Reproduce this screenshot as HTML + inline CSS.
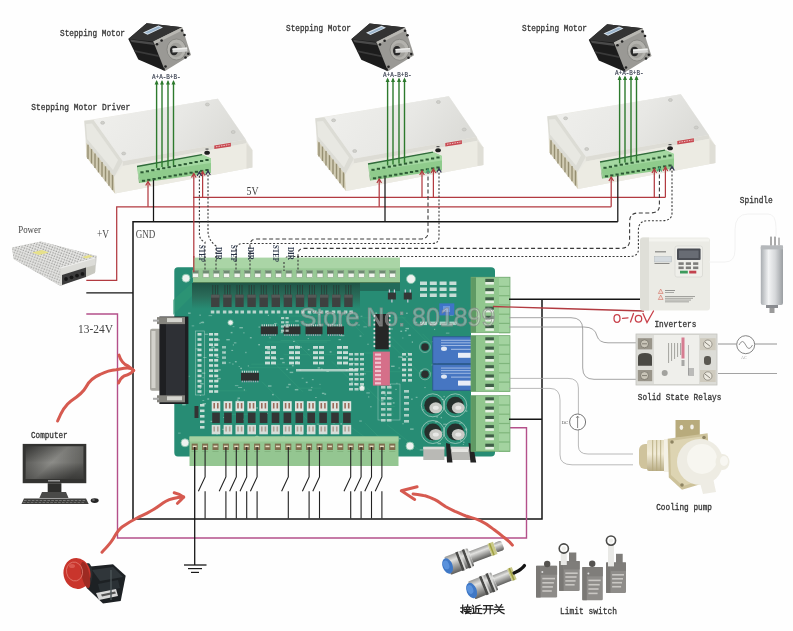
<!DOCTYPE html>
<html><head><meta charset="utf-8"><style>
html,body{margin:0;padding:0;background:#fefefe;}
svg{display:block;filter:blur(0.35px);}
</style></head><body>
<svg width="793" height="631" viewBox="0 0 793 631">
<rect x="0" y="0" width="793" height="631" fill="#fefefe"/>
<defs><linearGradient id="plateg" x1="0" y1="0" x2="1" y2="0.3"><stop offset="0" stop-color="#f0f0ed"/><stop offset="0.6" stop-color="#e8e8e5"/><stop offset="1" stop-color="#dcdcd8"/></linearGradient></defs>
<defs><g id="drv"><polygon points="84.3,120.7 217.8,98.8 245.7,139.4 252.3,150 252.3,167.5 115,193.4 86.4,157" fill="#e9e8e2"/>
<polygon points="93.5,120 217.8,98.8 245.7,139.4 122.8,161.3" fill="#f1f1ee"/>
<polygon points="93.5,120 217.8,98.8 245.7,139.4 122.8,161.3" fill="url(#plateg)"/>
<polygon points="84.3,120.7 93.5,120 122.8,161.3 114.2,177 86.4,142.8" fill="#dcdcd5"/>
<polygon points="86,124 92,123.5 118,160 113,170 87,139" fill="#e8e8e2"/>
<polygon points="86.4,142.8 114.2,177 115,193.4 86.4,157" fill="#d2ccb4"/>
<line x1="88.0" y1="144.8" x2="88.0" y2="159.0" stroke="#968f72" stroke-width="1.4"/>
<line x1="91.5" y1="149.1" x2="91.5" y2="163.5" stroke="#968f72" stroke-width="1.4"/>
<line x1="95.0" y1="153.4" x2="95.0" y2="167.9" stroke="#968f72" stroke-width="1.4"/>
<line x1="98.5" y1="157.7" x2="98.5" y2="172.4" stroke="#968f72" stroke-width="1.4"/>
<line x1="102.0" y1="162.0" x2="102.0" y2="176.8" stroke="#968f72" stroke-width="1.4"/>
<line x1="105.5" y1="166.3" x2="105.5" y2="181.3" stroke="#968f72" stroke-width="1.4"/>
<line x1="109.0" y1="170.6" x2="109.0" y2="185.7" stroke="#968f72" stroke-width="1.4"/>
<line x1="112.5" y1="174.9" x2="112.5" y2="190.1" stroke="#968f72" stroke-width="1.4"/>
<polygon points="122.8,161.3 245.7,139.4 246.5,143.2 122.8,166" fill="#dddcd5"/>
<polygon points="114.2,177 122.8,166 246.5,143.2 252.3,150 252.3,167.5 115,193.4" fill="#ecebe3"/>
<polygon points="246.5,143.2 252.3,150 252.3,167.5 246.5,168.5" fill="#dfded6"/>
<ellipse cx="102.6" cy="122.8" rx="2" ry="1.5" fill="#cfcfca" stroke="#b5b5b0" stroke-width="0.5"/>
<ellipse cx="123.7" cy="153.5" rx="2" ry="1.5" fill="#cfcfca" stroke="#b5b5b0" stroke-width="0.5"/>
<ellipse cx="207.4" cy="104.5" rx="2" ry="1.5" fill="#cfcfca" stroke="#b5b5b0" stroke-width="0.5"/>
<ellipse cx="233.2" cy="132" rx="2" ry="1.5" fill="#cfcfca" stroke="#b5b5b0" stroke-width="0.5"/>
<polygon points="214.3,145.5 230.9,142.8 230.9,146.4 214.3,149.1" fill="#c84a52"/>
<line x1="216" y1="146.8" x2="229.5" y2="144.6" stroke="#f3d4d4" stroke-width="0.9" stroke-dasharray="1.5,1"/>
<ellipse cx="207.1" cy="152.8" rx="2.8" ry="2" fill="#1e1e1e"/>
<rect x="205.5" y="148.5" width="3" height="1.2" fill="#555"/>
<polygon points="137,166.5 202,154.6 211,158.6 211,173 140,183" fill="#8fcb8c"/>
<polygon points="137,166.5 202,154.6 211,158.6 211,163 138,173.5" fill="#a4d8a1"/>
<polygon points="137,166.5 138,173.5 140,183 139,183" fill="#6fae6d"/>
<line x1="137" y1="166.5" x2="202" y2="154.6" stroke="#2f6a3a" stroke-width="1.3"/>
<rect x="140.4" y="171.3" width="3.2" height="2" fill="#2c5a34"/>
<rect x="141.9" y="179.8" width="3.2" height="2" fill="#2c5a34"/>
<rect x="145.8" y="170.3" width="3.2" height="2" fill="#2c5a34"/>
<rect x="147.2" y="178.9" width="3.2" height="2" fill="#2c5a34"/>
<rect x="151.2" y="169.2" width="3.2" height="2" fill="#2c5a34"/>
<rect x="152.5" y="178.0" width="3.2" height="2" fill="#2c5a34"/>
<rect x="156.7" y="168.2" width="3.2" height="2" fill="#2c5a34"/>
<rect x="157.8" y="177.1" width="3.2" height="2" fill="#2c5a34"/>
<rect x="162.1" y="167.2" width="3.2" height="2" fill="#2c5a34"/>
<rect x="163.1" y="176.2" width="3.2" height="2" fill="#2c5a34"/>
<rect x="167.5" y="166.2" width="3.2" height="2" fill="#2c5a34"/>
<rect x="168.4" y="175.3" width="3.2" height="2" fill="#2c5a34"/>
<rect x="172.9" y="165.1" width="3.2" height="2" fill="#2c5a34"/>
<rect x="173.7" y="174.4" width="3.2" height="2" fill="#2c5a34"/>
<rect x="178.3" y="164.1" width="3.2" height="2" fill="#2c5a34"/>
<rect x="178.9" y="173.5" width="3.2" height="2" fill="#2c5a34"/>
<rect x="183.7" y="163.1" width="3.2" height="2" fill="#2c5a34"/>
<rect x="184.2" y="172.6" width="3.2" height="2" fill="#2c5a34"/>
<rect x="189.2" y="162.0" width="3.2" height="2" fill="#2c5a34"/>
<rect x="189.5" y="171.7" width="3.2" height="2" fill="#2c5a34"/>
<rect x="194.6" y="161.0" width="3.2" height="2" fill="#2c5a34"/>
<rect x="194.8" y="170.8" width="3.2" height="2" fill="#2c5a34"/>
<rect x="200.0" y="160.0" width="3.2" height="2" fill="#2c5a34"/>
<rect x="200.1" y="169.9" width="3.2" height="2" fill="#2c5a34"/>
<rect x="205.4" y="159.0" width="3.2" height="2" fill="#2c5a34"/>
<rect x="205.4" y="169.0" width="3.2" height="2" fill="#2c5a34"/></g><g id="mot"><polygon points="128.3,38.9 146.6,23.3 182.1,27.2 165,71 138.3,59.4" fill="#1c1c1c"/>
<polygon points="128.3,38.9 146.6,23.3 182.1,27.2 153.3,41.6" fill="#333333"/>
<polygon points="130,39.5 153.3,42.5 154,45 131.5,42" fill="#4a4a4a"/>
<polygon points="134,50 158,55 159,57 135,52" fill="#3a3a3a"/>
<polygon points="143,32.5 158.5,25.5 163,27.5 147.5,34.8" fill="#dae4ec"/>
<polygon points="145,32.6 158.5,26.6 161,27.7 147.5,33.8" fill="#9ab4cc"/>
<polygon points="153.3,41.6 182.1,27.2 191,55 165,71" fill="#9a9995"/>
<polygon points="153.3,41.6 182.1,27.2 183,30 155,44" fill="#b8b7b2"/>
<ellipse cx="176.5" cy="49.5" rx="9.5" ry="10.5" fill="#b3b2ad" stroke="#7d7c78" stroke-width="0.7"/>
<ellipse cx="176" cy="50" rx="6.5" ry="7.2" fill="#a09f9a"/>
<ellipse cx="174" cy="50.5" rx="4" ry="4.8" fill="#2a2a2a"/>
<polygon points="172.5,48.6 187,47.6 187.5,51.6 172.5,52.6" fill="#d4d4d2"/>
<polygon points="172.5,48.6 187,47.6 187.2,49 172.5,50" fill="#eeeeec"/>
<circle cx="161.6" cy="40.5" r="1.3" fill="#222"/>
<circle cx="157" cy="44.2" r="1.3" fill="#222"/>
<circle cx="182" cy="30.5" r="1.3" fill="#222"/>
<circle cx="184.5" cy="35" r="1.3" fill="#222"/>
<circle cx="188.3" cy="53.8" r="1.3" fill="#222"/>
<circle cx="185.5" cy="57.5" r="1.3" fill="#222"/>
<circle cx="165.5" cy="66.5" r="1.3" fill="#222"/>
<circle cx="163.5" cy="69" r="1.3" fill="#222"/></g><g id="wir"><text x="166.3" y="79" font-size="8" fill="#3a4050" text-anchor="middle" font-family='"Liberation Mono", monospace' stroke="#3a4050" stroke-width="0.2" textLength="28.5" lengthAdjust="spacingAndGlyphs">A+A-B+B-</text>
<line x1="156.6" y1="81.5" x2="156.6" y2="167.9" stroke="#2d7a2d" stroke-width="1.4"/>
<polygon points="154.6,84.5 156.6,80 158.6,84.5" fill="#2d7a2d"/>
<line x1="162" y1="81.5" x2="162" y2="167.1" stroke="#2d7a2d" stroke-width="1.4"/>
<polygon points="160,84.5 162,80 164,84.5" fill="#2d7a2d"/>
<line x1="168" y1="81.5" x2="168" y2="166.1" stroke="#2d7a2d" stroke-width="1.4"/>
<polygon points="166,84.5 168,80 170,84.5" fill="#2d7a2d"/>
<line x1="173.5" y1="81.5" x2="173.5" y2="165.3" stroke="#2d7a2d" stroke-width="1.4"/>
<polygon points="171.5,84.5 173.5,80 175.5,84.5" fill="#2d7a2d"/></g></defs>
<use href="#drv" transform="translate(0,0)"/>
<use href="#drv" transform="translate(231,-2.5)"/>
<use href="#drv" transform="translate(463,-4.5)"/>
<use href="#mot" transform="translate(0,0)"/>
<use href="#mot" transform="translate(223,0.3)"/>
<use href="#mot" transform="translate(460.5,1)"/>
<use href="#wir" transform="translate(0,0)"/>
<use href="#wir" transform="translate(231,-2.5)"/>
<use href="#wir" transform="translate(463,-4.5)"/>
<text x="60" y="36" font-size="9.5" font-weight="normal" fill="#3a3a3a" text-anchor="start" font-family='"Liberation Mono", monospace' stroke="#3a3a3a" stroke-width="0.35" textLength="65" lengthAdjust="spacingAndGlyphs">Stepping Motor</text>
<text x="286" y="31" font-size="9.5" font-weight="normal" fill="#3a3a3a" text-anchor="start" font-family='"Liberation Mono", monospace' stroke="#3a3a3a" stroke-width="0.35" textLength="65" lengthAdjust="spacingAndGlyphs">Stepping Motor</text>
<text x="522" y="30.5" font-size="9.5" font-weight="normal" fill="#3a3a3a" text-anchor="start" font-family='"Liberation Mono", monospace' stroke="#3a3a3a" stroke-width="0.35" textLength="65" lengthAdjust="spacingAndGlyphs">Stepping Motor</text>
<text x="31.3" y="110" font-size="9.5" font-weight="normal" fill="#3a3a3a" text-anchor="start" font-family='"Liberation Mono", monospace' stroke="#3a3a3a" stroke-width="0.35" textLength="99" lengthAdjust="spacingAndGlyphs">Stepping Motor Driver</text>
<line x1="193" y1="197.3" x2="665.4" y2="197.3" stroke="#b23a40" stroke-width="1.25" />
<polyline points="86.3,280.4 116.7,280.4 116.7,206.8 611.2,206.8" fill="none" stroke="#b23a40" stroke-width="1.25" />
<polyline points="86.3,292.8 133,292.8" fill="none" stroke="#151515" stroke-width="1.25" />
<polyline points="542,299.2 542,519 133,519 133,221.8 617.8,221.8" fill="none" stroke="#151515" stroke-width="1.5"/>
<line x1="148" y1="182" x2="148" y2="206.8" stroke="#b23a40" stroke-width="1.25" />
<polyline points="145.7,185.5 148,181.5 150.3,185.5" fill="none" stroke="#b23a40" stroke-width="1.2"/>
<line x1="153.5" y1="180" x2="153.5" y2="221.8" stroke="#151515" stroke-width="1.25" />
<line x1="193.8" y1="174" x2="193.8" y2="272" stroke="#b23a40" stroke-width="1.25" />
<polyline points="191.5,177.5 193.8,173.5 196.10000000000002,177.5" fill="none" stroke="#b23a40" stroke-width="1.2"/>
<line x1="202.6" y1="172" x2="202.6" y2="197.3" stroke="#b23a40" stroke-width="1.25" />
<polyline points="200.29999999999998,175.5 202.6,171.5 204.9,175.5" fill="none" stroke="#b23a40" stroke-width="1.2"/>
<line x1="379.2" y1="179.5" x2="379.2" y2="206.8" stroke="#b23a40" stroke-width="1.25" />
<polyline points="376.9,183 379.2,179 381.5,183" fill="none" stroke="#b23a40" stroke-width="1.2"/>
<line x1="385" y1="177.5" x2="385" y2="221.8" stroke="#151515" stroke-width="1.25" />
<line x1="422" y1="171.5" x2="422" y2="197.3" stroke="#b23a40" stroke-width="1.25" />
<polyline points="419.7,175 422,171 424.3,175" fill="none" stroke="#b23a40" stroke-width="1.2"/>
<line x1="433.4" y1="169.5" x2="433.4" y2="197.3" stroke="#b23a40" stroke-width="1.25" />
<polyline points="431.09999999999997,173 433.4,169 435.7,173" fill="none" stroke="#b23a40" stroke-width="1.2"/>
<line x1="611.2" y1="177.5" x2="611.2" y2="206.8" stroke="#b23a40" stroke-width="1.25" />
<polyline points="608.9000000000001,181 611.2,177 613.5,181" fill="none" stroke="#b23a40" stroke-width="1.2"/>
<line x1="617.8" y1="175.5" x2="617.8" y2="221.8" stroke="#151515" stroke-width="1.25" />
<line x1="654.3" y1="169.5" x2="654.3" y2="197.3" stroke="#b23a40" stroke-width="1.25" />
<polyline points="652.0,173 654.3,169 656.5999999999999,173" fill="none" stroke="#b23a40" stroke-width="1.2"/>
<line x1="665.4" y1="167.5" x2="665.4" y2="197.3" stroke="#b23a40" stroke-width="1.25" />
<polyline points="663.1,171 665.4,167 667.6999999999999,171" fill="none" stroke="#b23a40" stroke-width="1.2"/>
<path d="M199.4,172 V234 Q199.4,240 205,242 V271" fill="none" stroke="#3a3a3a" stroke-width="1.1" stroke-dasharray="2,1.8"/>
<polyline points="197.1,176 199.4,172 201.70000000000002,176" fill="none" stroke="#335" stroke-width="1.2"/>
<path d="M208,171 V231 Q208,240 216,246 V271" fill="none" stroke="#3a3a3a" stroke-width="1.1" stroke-dasharray="2,1.8"/>
<polyline points="205.7,175 208,171 210.3,175" fill="none" stroke="#335" stroke-width="1.2"/>
<path d="M428,170 V233 Q428,239 420,239 H256 Q250,239 250,246 V271" fill="none" stroke="#3a3a3a" stroke-width="1.1" stroke-dasharray="4,2.5"/>
<polyline points="425.7,173.5 428,169.5 430.3,173.5" fill="none" stroke="#4a7" stroke-width="1.2"/>
<path d="M439,169 V237 Q439,243.5 432,243.5 H243 Q236,243.5 236,250 V271" fill="none" stroke="#3a3a3a" stroke-width="1.1" stroke-dasharray="2,1.8"/>
<polyline points="436.7,172.5 439,168.5 441.3,172.5" fill="none" stroke="#335" stroke-width="1.2"/>
<path d="M659.4,168 V206 Q659.4,213 650,213 H638 Q629.6,213 629.6,222 V241 Q629.6,248.4 620,248.4 H304 Q298,248.4 298,254 V271" fill="none" stroke="#3a3a3a" stroke-width="1.1" stroke-dasharray="4,2.5"/>
<polyline points="657.1,171.5 659.4,167.5 661.6999999999999,171.5" fill="none" stroke="#4a7" stroke-width="1.2"/>
<path d="M672,167 V213 Q672,220.7 662,220.7 H648 Q638.4,220.7 638.4,230 V249 Q638.4,256.5 630,256.5 H290 Q284,256.5 284,262 V271" fill="none" stroke="#3a3a3a" stroke-width="1.1" stroke-dasharray="2,1.8"/>
<polyline points="669.7,170.5 672,166.5 674.3,170.5" fill="none" stroke="#335" stroke-width="1.2"/>
<polyline points="86.3,314 117.5,314 117.5,538 526.5,538 526.5,427.8 509,427.8" fill="none" stroke="#b4508a" stroke-width="1.4"/>
<defs><linearGradient id="band" x1="0" y1="0" x2="0" y2="1"><stop offset="0" stop-color="#1e4a3e"/><stop offset="0.5" stop-color="#2a6654"/><stop offset="1" stop-color="#278c74"/></linearGradient></defs>
<path d="M178,267.3 H491 Q495,267.3 495,271 V277 H471 V440 H491 Q495,440 495,444 V452.5 Q495,456.5 491,456.5 H178 Q174.3,456.5 174.3,452.5 V271 Q174.3,267.3 178,267.3 Z" fill="#278c74"/>
<line x1="261.9" y1="381.7" x2="281.8" y2="401.6" stroke="#3aa07e" stroke-width="0.7" opacity="0.55"/>
<line x1="362.7" y1="320.4" x2="370.1" y2="327.8" stroke="#3aa07e" stroke-width="0.7" opacity="0.55"/>
<line x1="267.4" y1="342.0" x2="327.2" y2="342.0" stroke="#3aa07e" stroke-width="0.7" opacity="0.55"/>
<line x1="417.5" y1="373.0" x2="459.4" y2="373.0" stroke="#3aa07e" stroke-width="0.7" opacity="0.55"/>
<line x1="365.1" y1="423.1" x2="390.4" y2="448.4" stroke="#3aa07e" stroke-width="0.7" opacity="0.55"/>
<line x1="374.6" y1="320.2" x2="408.1" y2="353.7" stroke="#3aa07e" stroke-width="0.7" opacity="0.55"/>
<line x1="278.3" y1="316.0" x2="331.6" y2="316.0" stroke="#3aa07e" stroke-width="0.7" opacity="0.55"/>
<line x1="386.9" y1="424.5" x2="418.9" y2="450.0" stroke="#3aa07e" stroke-width="0.7" opacity="0.55"/>
<line x1="302.7" y1="414.5" x2="325.3" y2="437.1" stroke="#3aa07e" stroke-width="0.7" opacity="0.55"/>
<line x1="428.5" y1="324.5" x2="445.3" y2="324.5" stroke="#3aa07e" stroke-width="0.7" opacity="0.55"/>
<line x1="451.0" y1="367.8" x2="468.0" y2="367.8" stroke="#3aa07e" stroke-width="0.7" opacity="0.55"/>
<line x1="331.9" y1="361.4" x2="351.2" y2="380.7" stroke="#3aa07e" stroke-width="0.7" opacity="0.55"/>
<line x1="351.9" y1="427.7" x2="382.8" y2="450.0" stroke="#3aa07e" stroke-width="0.7" opacity="0.55"/>
<line x1="422.7" y1="438.8" x2="466.2" y2="438.8" stroke="#3aa07e" stroke-width="0.7" opacity="0.55"/>
<line x1="423.8" y1="435.5" x2="462.4" y2="450.0" stroke="#3aa07e" stroke-width="0.7" opacity="0.55"/>
<line x1="385.6" y1="339.0" x2="421.7" y2="375.1" stroke="#3aa07e" stroke-width="0.7" opacity="0.55"/>
<line x1="274.1" y1="320.1" x2="311.0" y2="357.0" stroke="#3aa07e" stroke-width="0.7" opacity="0.55"/>
<line x1="223.0" y1="414.5" x2="253.5" y2="414.5" stroke="#3aa07e" stroke-width="0.7" opacity="0.55"/>
<line x1="276.4" y1="410.4" x2="330.1" y2="410.4" stroke="#3aa07e" stroke-width="0.7" opacity="0.55"/>
<line x1="359.8" y1="317.8" x2="405.7" y2="317.8" stroke="#3aa07e" stroke-width="0.7" opacity="0.55"/>
<line x1="429.0" y1="437.5" x2="453.7" y2="450.0" stroke="#3aa07e" stroke-width="0.7" opacity="0.55"/>
<line x1="280.5" y1="321.9" x2="320.5" y2="321.9" stroke="#3aa07e" stroke-width="0.7" opacity="0.55"/>
<line x1="251.3" y1="364.2" x2="291.8" y2="364.2" stroke="#3aa07e" stroke-width="0.7" opacity="0.55"/>
<line x1="211.0" y1="423.1" x2="229.0" y2="441.1" stroke="#3aa07e" stroke-width="0.7" opacity="0.55"/>
<line x1="433.1" y1="360.4" x2="456.2" y2="383.5" stroke="#3aa07e" stroke-width="0.7" opacity="0.55"/>
<line x1="367.4" y1="388.2" x2="394.0" y2="414.8" stroke="#3aa07e" stroke-width="0.7" opacity="0.55"/>
<line x1="444.6" y1="376.9" x2="466.7" y2="399.0" stroke="#3aa07e" stroke-width="0.7" opacity="0.55"/>
<line x1="261.8" y1="350.5" x2="303.0" y2="391.8" stroke="#3aa07e" stroke-width="0.7" opacity="0.55"/>
<line x1="342.6" y1="313.5" x2="364.1" y2="335.0" stroke="#3aa07e" stroke-width="0.7" opacity="0.55"/>
<line x1="205.2" y1="390.8" x2="246.8" y2="390.8" stroke="#3aa07e" stroke-width="0.7" opacity="0.55"/>
<line x1="363.1" y1="371.7" x2="407.1" y2="371.7" stroke="#3aa07e" stroke-width="0.7" opacity="0.55"/>
<line x1="383.8" y1="406.5" x2="394.9" y2="406.5" stroke="#3aa07e" stroke-width="0.7" opacity="0.55"/>
<line x1="375.8" y1="435.3" x2="398.3" y2="435.3" stroke="#3aa07e" stroke-width="0.7" opacity="0.55"/>
<line x1="354.1" y1="353.0" x2="382.3" y2="353.0" stroke="#3aa07e" stroke-width="0.7" opacity="0.55"/>
<line x1="296.0" y1="388.2" x2="321.0" y2="388.2" stroke="#3aa07e" stroke-width="0.7" opacity="0.55"/>
<line x1="400.8" y1="315.4" x2="427.7" y2="342.4" stroke="#3aa07e" stroke-width="0.7" opacity="0.55"/>
<line x1="280.6" y1="340.5" x2="330.8" y2="340.5" stroke="#3aa07e" stroke-width="0.7" opacity="0.55"/>
<line x1="248.7" y1="367.7" x2="293.6" y2="367.7" stroke="#3aa07e" stroke-width="0.7" opacity="0.55"/>
<line x1="283.7" y1="354.7" x2="335.4" y2="354.7" stroke="#3aa07e" stroke-width="0.7" opacity="0.55"/>
<line x1="422.4" y1="333.7" x2="441.2" y2="352.5" stroke="#3aa07e" stroke-width="0.7" opacity="0.55"/>
<g fill="#dff0e8" opacity="0.45"><rect x="308.3" y="389.5" width="3.5" height="1.1"/><rect x="324.3" y="393.4" width="1.8" height="1.4"/><rect x="315.0" y="397.2" width="1.8" height="0.8"/><rect x="306.6" y="330.1" width="1.2" height="1.4"/><rect x="460.9" y="447.0" width="1.8" height="1.4"/><rect x="182.3" y="385.0" width="1.2" height="0.8"/><rect x="232.8" y="344.4" width="1.2" height="1.1"/><rect x="272.0" y="393.9" width="1.8" height="1.4"/><rect x="245.3" y="351.8" width="1.2" height="1.4"/><rect x="202.5" y="403.0" width="3.5" height="1.4"/><rect x="464.8" y="429.3" width="2.5" height="1.1"/><rect x="396.3" y="382.8" width="1.2" height="0.8"/><rect x="340.2" y="325.3" width="1.2" height="1.1"/><rect x="289.3" y="446.0" width="1.2" height="0.8"/><rect x="238.4" y="439.3" width="3.5" height="1.1"/><rect x="460.3" y="366.4" width="1.2" height="1.4"/><rect x="359.3" y="420.5" width="2.5" height="1.1"/><rect x="203.1" y="357.2" width="3.5" height="0.8"/><rect x="216.8" y="410.4" width="1.2" height="0.8"/><rect x="311.9" y="379.1" width="1.8" height="1.1"/><rect x="324.6" y="449.9" width="1.8" height="1.1"/><rect x="363.4" y="326.5" width="3.5" height="0.8"/><rect x="178.1" y="432.7" width="2.5" height="0.8"/><rect x="238.7" y="366.0" width="1.2" height="0.8"/><rect x="462.9" y="340.3" width="2.5" height="0.8"/><rect x="400.5" y="356.7" width="2.5" height="1.1"/><rect x="199.1" y="322.8" width="1.8" height="0.8"/><rect x="351.2" y="362.8" width="3.5" height="0.8"/><rect x="454.2" y="378.7" width="1.8" height="1.1"/><rect x="230.7" y="331.9" width="1.8" height="1.4"/><rect x="249.9" y="337.0" width="1.8" height="1.4"/><rect x="451.6" y="435.3" width="1.2" height="1.1"/><rect x="191.7" y="325.5" width="2.5" height="0.8"/><rect x="391.1" y="365.6" width="3.5" height="1.4"/><rect x="319.4" y="383.9" width="1.2" height="0.8"/><rect x="243.8" y="389.4" width="1.2" height="1.1"/><rect x="239.2" y="439.9" width="1.2" height="0.8"/><rect x="255.5" y="373.3" width="1.2" height="0.8"/><rect x="228.8" y="362.4" width="1.8" height="0.8"/><rect x="282.3" y="436.5" width="2.5" height="1.4"/><rect x="389.1" y="384.1" width="1.8" height="1.4"/><rect x="188.1" y="312.5" width="2.5" height="1.4"/><rect x="267.8" y="314.8" width="1.2" height="1.1"/><rect x="197.4" y="354.2" width="1.8" height="0.8"/><rect x="199.7" y="387.5" width="1.2" height="1.4"/><rect x="390.3" y="328.4" width="2.5" height="1.1"/><rect x="202.5" y="377.2" width="1.2" height="1.1"/><rect x="449.9" y="314.3" width="3.5" height="1.4"/><rect x="182.2" y="404.0" width="3.5" height="1.4"/><rect x="181.6" y="320.3" width="1.2" height="1.4"/><rect x="211.3" y="346.5" width="3.5" height="1.4"/><rect x="273.1" y="442.7" width="3.5" height="1.1"/><rect x="311.2" y="386.9" width="1.2" height="1.1"/><rect x="351.2" y="378.3" width="1.8" height="1.4"/><rect x="210.5" y="420.8" width="3.5" height="1.1"/><rect x="436.2" y="362.2" width="1.8" height="1.4"/><rect x="354.2" y="383.6" width="2.5" height="1.4"/><rect x="445.9" y="380.8" width="1.8" height="1.1"/><rect x="294.6" y="345.6" width="3.5" height="0.8"/><rect x="431.5" y="364.6" width="2.5" height="0.8"/><rect x="217.2" y="380.5" width="1.2" height="1.4"/><rect x="196.5" y="449.2" width="1.8" height="0.8"/><rect x="307.8" y="349.1" width="1.8" height="1.1"/><rect x="288.2" y="383.8" width="2.5" height="1.4"/><rect x="419.7" y="449.4" width="3.5" height="1.1"/><rect x="199.5" y="314.5" width="1.2" height="1.4"/><rect x="382.1" y="391.0" width="2.5" height="1.4"/><rect x="406.0" y="312.7" width="1.8" height="1.1"/><rect x="309.0" y="313.5" width="2.5" height="0.8"/><rect x="402.4" y="423.2" width="1.2" height="1.1"/><rect x="209.4" y="386.0" width="2.5" height="0.8"/><rect x="375.1" y="338.3" width="3.5" height="1.1"/><rect x="229.5" y="311.5" width="3.5" height="1.4"/><rect x="383.7" y="335.4" width="2.5" height="1.1"/><rect x="333.4" y="444.4" width="1.8" height="1.1"/><rect x="422.4" y="409.4" width="1.8" height="0.8"/><rect x="296.2" y="436.8" width="3.5" height="0.8"/><rect x="307.7" y="338.0" width="1.2" height="1.1"/><rect x="336.4" y="402.7" width="2.5" height="1.1"/><rect x="272.0" y="449.5" width="1.2" height="1.4"/><rect x="427.5" y="423.4" width="1.2" height="0.8"/><rect x="247.8" y="365.4" width="1.2" height="1.1"/><rect x="332.6" y="422.3" width="2.5" height="1.1"/><rect x="440.1" y="431.5" width="2.5" height="1.4"/><rect x="201.8" y="372.6" width="3.5" height="1.1"/><rect x="318.4" y="314.0" width="1.2" height="1.1"/><rect x="408.4" y="334.6" width="2.5" height="1.4"/><rect x="404.9" y="330.0" width="1.8" height="1.4"/><rect x="437.4" y="383.6" width="3.5" height="1.1"/><rect x="344.7" y="407.8" width="1.8" height="1.1"/><rect x="329.7" y="351.2" width="1.8" height="1.4"/><rect x="326.1" y="438.8" width="2.5" height="1.1"/><rect x="371.3" y="445.6" width="1.8" height="1.1"/><rect x="423.0" y="447.5" width="2.5" height="1.4"/><rect x="321.3" y="368.4" width="1.2" height="1.4"/><rect x="179.4" y="363.5" width="1.2" height="1.4"/><rect x="442.2" y="387.2" width="1.2" height="1.1"/><rect x="204.8" y="333.7" width="3.5" height="1.1"/><rect x="443.2" y="423.7" width="3.5" height="1.1"/><rect x="248.9" y="380.0" width="2.5" height="1.1"/><rect x="437.5" y="442.9" width="3.5" height="1.4"/><rect x="269.4" y="337.2" width="1.2" height="1.1"/><rect x="215.3" y="420.7" width="1.2" height="0.8"/><rect x="233.9" y="342.3" width="2.5" height="1.1"/><rect x="386.4" y="344.7" width="3.5" height="0.8"/><rect x="321.9" y="392.7" width="2.5" height="1.4"/><rect x="234.9" y="385.3" width="3.5" height="0.8"/><rect x="286.2" y="368.7" width="1.8" height="1.4"/><rect x="236.8" y="399.6" width="1.8" height="1.4"/><rect x="240.3" y="387.1" width="1.8" height="0.8"/><rect x="441.5" y="399.2" width="2.5" height="0.8"/><rect x="269.0" y="354.7" width="1.8" height="0.8"/><rect x="402.2" y="337.6" width="1.2" height="0.8"/><rect x="434.0" y="328.8" width="1.2" height="1.1"/><rect x="289.7" y="371.7" width="3.5" height="1.4"/><rect x="405.5" y="327.9" width="3.5" height="1.4"/><rect x="375.3" y="312.5" width="1.8" height="1.4"/><rect x="374.5" y="439.4" width="2.5" height="0.8"/><rect x="381.0" y="400.1" width="2.5" height="1.4"/><rect x="465.6" y="428.3" width="1.2" height="1.1"/><rect x="208.6" y="315.3" width="3.5" height="0.8"/><rect x="232.6" y="326.3" width="1.8" height="0.8"/><rect x="463.2" y="441.6" width="1.2" height="1.4"/><rect x="195.8" y="445.1" width="3.5" height="0.8"/><rect x="398.2" y="356.4" width="3.5" height="1.1"/><rect x="326.4" y="371.1" width="2.5" height="0.8"/><rect x="360.6" y="315.8" width="1.8" height="0.8"/><rect x="295.5" y="361.1" width="2.5" height="1.1"/><rect x="443.5" y="395.9" width="1.2" height="1.4"/><rect x="406.2" y="356.0" width="1.2" height="1.4"/><rect x="430.2" y="439.0" width="3.5" height="1.4"/><rect x="350.7" y="381.6" width="2.5" height="1.1"/><rect x="258.5" y="326.5" width="1.8" height="1.1"/><rect x="216.4" y="356.8" width="2.5" height="1.1"/><rect x="398.4" y="367.6" width="1.8" height="0.8"/><rect x="407.6" y="352.8" width="1.2" height="0.8"/><rect x="433.8" y="450.7" width="1.2" height="0.8"/><rect x="256.6" y="446.5" width="2.5" height="1.1"/><rect x="240.2" y="367.7" width="1.8" height="1.4"/><rect x="200.1" y="383.1" width="3.5" height="1.4"/><rect x="239.4" y="327.0" width="3.5" height="1.4"/><rect x="184.6" y="397.4" width="1.8" height="1.1"/><rect x="305.8" y="381.7" width="1.8" height="1.4"/><rect x="286.2" y="324.0" width="2.5" height="1.1"/><rect x="438.8" y="388.1" width="3.5" height="1.4"/><rect x="341.6" y="451.3" width="3.5" height="1.4"/><rect x="199.9" y="394.9" width="1.2" height="1.1"/><rect x="445.9" y="332.7" width="3.5" height="0.8"/><rect x="424.4" y="387.0" width="1.2" height="1.1"/><rect x="450.2" y="369.7" width="3.5" height="1.4"/><rect x="268.0" y="385.3" width="3.5" height="1.4"/><rect x="255.7" y="442.0" width="2.5" height="0.8"/><rect x="182.0" y="344.8" width="1.2" height="1.4"/><rect x="223.1" y="417.2" width="3.5" height="0.8"/><rect x="436.5" y="416.3" width="1.2" height="1.4"/><rect x="462.8" y="444.1" width="1.2" height="0.8"/><rect x="301.7" y="377.8" width="1.8" height="0.8"/><rect x="328.7" y="443.1" width="3.5" height="0.8"/><rect x="459.9" y="426.0" width="1.2" height="0.8"/><rect x="357.8" y="374.7" width="1.8" height="0.8"/><rect x="280.7" y="332.0" width="2.5" height="1.1"/><rect x="218.3" y="369.2" width="2.5" height="1.4"/><rect x="345.7" y="369.6" width="1.8" height="1.1"/><rect x="389.5" y="343.9" width="1.2" height="1.4"/><rect x="435.1" y="421.4" width="2.5" height="1.1"/><rect x="256.2" y="407.3" width="1.8" height="1.4"/><rect x="258.2" y="344.0" width="1.8" height="1.4"/><rect x="460.2" y="440.0" width="1.2" height="1.4"/><rect x="195.5" y="348.5" width="3.5" height="0.8"/><rect x="357.5" y="324.6" width="2.5" height="0.8"/><rect x="395.7" y="439.6" width="1.8" height="1.4"/><rect x="245.6" y="449.4" width="3.5" height="1.1"/><rect x="280.0" y="358.0" width="3.5" height="1.4"/><rect x="216.4" y="433.5" width="1.2" height="1.1"/><rect x="411.0" y="398.6" width="1.8" height="1.1"/><rect x="300.2" y="346.6" width="1.8" height="1.1"/><rect x="222.2" y="428.8" width="2.5" height="1.1"/><rect x="336.0" y="415.9" width="1.8" height="1.1"/><rect x="366.3" y="392.4" width="3.5" height="1.1"/><rect x="200.6" y="321.8" width="3.5" height="1.4"/><rect x="311.5" y="426.9" width="1.2" height="0.8"/><rect x="267.3" y="439.3" width="1.2" height="1.4"/><rect x="265.5" y="412.9" width="2.5" height="1.1"/><rect x="431.9" y="341.1" width="2.5" height="1.1"/><rect x="439.0" y="355.8" width="3.5" height="1.4"/><rect x="349.3" y="438.1" width="2.5" height="1.1"/><rect x="330.7" y="450.9" width="3.5" height="1.1"/><rect x="241.7" y="447.4" width="1.8" height="0.8"/><rect x="282.2" y="361.9" width="2.5" height="1.4"/><rect x="291.9" y="365.0" width="1.8" height="1.4"/><rect x="340.4" y="423.2" width="1.8" height="1.4"/><rect x="340.1" y="335.1" width="3.5" height="1.1"/><rect x="411.8" y="341.4" width="1.2" height="1.4"/><rect x="223.7" y="352.0" width="1.2" height="1.4"/><rect x="420.4" y="370.0" width="2.5" height="1.4"/><rect x="202.2" y="321.6" width="1.2" height="1.1"/><rect x="202.4" y="400.0" width="1.8" height="0.8"/><rect x="392.8" y="402.2" width="1.8" height="1.4"/><rect x="241.5" y="418.7" width="2.5" height="1.1"/><rect x="291.6" y="358.0" width="2.5" height="1.4"/><rect x="217.4" y="379.3" width="1.2" height="1.4"/><rect x="356.0" y="316.6" width="2.5" height="0.8"/><rect x="410.1" y="428.4" width="3.5" height="1.4"/><rect x="362.4" y="384.4" width="1.2" height="0.8"/><rect x="299.4" y="369.7" width="1.8" height="0.8"/><rect x="391.5" y="450.7" width="3.5" height="1.4"/><rect x="226.3" y="339.0" width="3.5" height="1.4"/><rect x="262.1" y="447.7" width="1.2" height="1.1"/><rect x="266.8" y="326.3" width="1.8" height="0.8"/><rect x="440.7" y="416.9" width="1.2" height="1.4"/><rect x="316.6" y="423.7" width="2.5" height="0.8"/><rect x="234.9" y="361.0" width="1.8" height="1.4"/><rect x="384.6" y="394.5" width="1.8" height="1.1"/><rect x="231.3" y="349.9" width="1.8" height="1.1"/><rect x="358.5" y="443.8" width="3.5" height="1.1"/><rect x="317.6" y="367.2" width="2.5" height="1.4"/><rect x="335.6" y="445.9" width="3.5" height="0.8"/><rect x="293.0" y="340.9" width="1.8" height="1.1"/><rect x="459.1" y="422.8" width="2.5" height="0.8"/><rect x="367.4" y="343.7" width="1.2" height="1.1"/><rect x="438.7" y="373.9" width="1.8" height="1.4"/><rect x="299.4" y="434.2" width="3.5" height="0.8"/><rect x="400.3" y="330.6" width="1.8" height="1.4"/><rect x="391.6" y="398.0" width="1.2" height="0.8"/><rect x="342.7" y="335.3" width="1.8" height="0.8"/><rect x="414.8" y="321.7" width="2.5" height="1.4"/><rect x="384.4" y="323.8" width="3.5" height="1.4"/><rect x="313.0" y="445.7" width="2.5" height="0.8"/><rect x="405.3" y="369.2" width="1.2" height="1.1"/><rect x="238.0" y="387.2" width="3.5" height="0.8"/><rect x="450.6" y="446.9" width="2.5" height="1.1"/><rect x="294.8" y="389.0" width="3.5" height="1.4"/><rect x="384.0" y="361.1" width="1.8" height="0.8"/><rect x="370.3" y="406.0" width="1.2" height="1.4"/><rect x="306.2" y="432.6" width="3.5" height="0.8"/><rect x="262.5" y="326.1" width="1.2" height="1.4"/><rect x="237.5" y="397.5" width="2.5" height="1.4"/><rect x="286.3" y="386.6" width="2.5" height="1.1"/><rect x="395.4" y="388.9" width="1.2" height="1.1"/><rect x="232.3" y="363.5" width="1.2" height="1.1"/><rect x="267.2" y="348.9" width="3.5" height="1.4"/><rect x="362.4" y="373.5" width="3.5" height="0.8"/><rect x="207.3" y="398.3" width="1.8" height="1.4"/><rect x="359.6" y="335.5" width="1.8" height="1.1"/><rect x="188.5" y="375.8" width="1.2" height="0.8"/><rect x="243.3" y="332.3" width="1.2" height="1.1"/><rect x="295.2" y="320.3" width="3.5" height="1.4"/><rect x="218.0" y="339.2" width="1.8" height="1.4"/><rect x="289.2" y="357.1" width="3.5" height="1.4"/><rect x="182.4" y="366.9" width="2.5" height="0.8"/><rect x="368.1" y="396.4" width="1.2" height="1.1"/><rect x="273.3" y="358.6" width="3.5" height="0.8"/><rect x="338.5" y="339.1" width="2.5" height="1.1"/><rect x="415.7" y="396.8" width="1.8" height="1.1"/><rect x="398.8" y="438.2" width="1.8" height="1.1"/><rect x="354.3" y="382.9" width="1.8" height="1.4"/><rect x="465.5" y="410.4" width="1.8" height="1.4"/><rect x="450.1" y="399.1" width="1.8" height="0.8"/><rect x="217.2" y="377.9" width="3.5" height="1.4"/><rect x="274.1" y="323.0" width="2.5" height="1.1"/></g>
<polygon points="173,300 192,283 192,296 173,315" fill="#2f9775" opacity="0.6"/>
<rect x="195.5" y="331" width="9" height="64" fill="none" stroke="#d8ece4" stroke-width="0.6" opacity="0.6"/>
<circle cx="186" cy="278.2" r="4" fill="#eef2f0" stroke="#7fbfa6" stroke-width="0.8"/>
<circle cx="185" cy="442.8" r="4" fill="#eef2f0" stroke="#7fbfa6" stroke-width="0.8"/>
<circle cx="411" cy="279" r="4.5" fill="#eef2f0" stroke="#7fbfa6" stroke-width="0.8"/>
<circle cx="410" cy="446" r="4" fill="#eef2f0" stroke="#7fbfa6" stroke-width="0.8"/>
<circle cx="230.5" cy="322.6" r="2.6" fill="#eef2f0" stroke="#7fbfa6" stroke-width="0.8"/>
<circle cx="362" cy="388" r="2.6" fill="#eef2f0" stroke="#7fbfa6" stroke-width="0.8"/>
<circle cx="257" cy="438" r="2" fill="#eef2f0" stroke="#7fbfa6" stroke-width="0.8"/>
<rect x="192" y="283" width="168" height="26" fill="url(#band)" opacity="0.85"/>
<rect x="360" y="283" width="40" height="8" fill="#1e4a3e" opacity="0.5"/>
<rect x="212.4" y="285" width="0.8" height="10" fill="#2a2f2d" opacity="0.8"/>
<rect x="214.9" y="285" width="0.8" height="10" fill="#2a2f2d" opacity="0.8"/>
<rect x="217.4" y="285" width="0.8" height="10" fill="#2a2f2d" opacity="0.8"/>
<rect x="211.1" y="294.7" width="8.4" height="12.3" fill="#3e4140"/>
<rect x="211.1" y="294.7" width="8.4" height="3" fill="#555957"/>
<rect x="210.8" y="310.5" width="3.5" height="3" fill="#dfe6e2" opacity="0.8"/>
<rect x="216.3" y="310.5" width="3.5" height="3" fill="#dfe6e2" opacity="0.8"/>
<rect x="224.5" y="285" width="0.8" height="10" fill="#2a2f2d" opacity="0.8"/>
<rect x="227.0" y="285" width="0.8" height="10" fill="#2a2f2d" opacity="0.8"/>
<rect x="229.5" y="285" width="0.8" height="10" fill="#2a2f2d" opacity="0.8"/>
<rect x="223.2" y="294.7" width="8.4" height="12.3" fill="#3e4140"/>
<rect x="223.2" y="294.7" width="8.4" height="3" fill="#555957"/>
<rect x="222.9" y="310.5" width="3.5" height="3" fill="#dfe6e2" opacity="0.8"/>
<rect x="228.4" y="310.5" width="3.5" height="3" fill="#dfe6e2" opacity="0.8"/>
<rect x="236.6" y="285" width="0.8" height="10" fill="#2a2f2d" opacity="0.8"/>
<rect x="239.1" y="285" width="0.8" height="10" fill="#2a2f2d" opacity="0.8"/>
<rect x="241.6" y="285" width="0.8" height="10" fill="#2a2f2d" opacity="0.8"/>
<rect x="235.3" y="294.7" width="8.4" height="12.3" fill="#3e4140"/>
<rect x="235.3" y="294.7" width="8.4" height="3" fill="#555957"/>
<rect x="235.0" y="310.5" width="3.5" height="3" fill="#dfe6e2" opacity="0.8"/>
<rect x="240.5" y="310.5" width="3.5" height="3" fill="#dfe6e2" opacity="0.8"/>
<rect x="248.7" y="285" width="0.8" height="10" fill="#2a2f2d" opacity="0.8"/>
<rect x="251.2" y="285" width="0.8" height="10" fill="#2a2f2d" opacity="0.8"/>
<rect x="253.7" y="285" width="0.8" height="10" fill="#2a2f2d" opacity="0.8"/>
<rect x="247.4" y="294.7" width="8.4" height="12.3" fill="#3e4140"/>
<rect x="247.4" y="294.7" width="8.4" height="3" fill="#555957"/>
<rect x="247.1" y="310.5" width="3.5" height="3" fill="#dfe6e2" opacity="0.8"/>
<rect x="252.6" y="310.5" width="3.5" height="3" fill="#dfe6e2" opacity="0.8"/>
<rect x="260.8" y="285" width="0.8" height="10" fill="#2a2f2d" opacity="0.8"/>
<rect x="263.3" y="285" width="0.8" height="10" fill="#2a2f2d" opacity="0.8"/>
<rect x="265.8" y="285" width="0.8" height="10" fill="#2a2f2d" opacity="0.8"/>
<rect x="259.5" y="294.7" width="8.4" height="12.3" fill="#3e4140"/>
<rect x="259.5" y="294.7" width="8.4" height="3" fill="#555957"/>
<rect x="259.2" y="310.5" width="3.5" height="3" fill="#dfe6e2" opacity="0.8"/>
<rect x="264.7" y="310.5" width="3.5" height="3" fill="#dfe6e2" opacity="0.8"/>
<rect x="272.9" y="285" width="0.8" height="10" fill="#2a2f2d" opacity="0.8"/>
<rect x="275.4" y="285" width="0.8" height="10" fill="#2a2f2d" opacity="0.8"/>
<rect x="277.9" y="285" width="0.8" height="10" fill="#2a2f2d" opacity="0.8"/>
<rect x="271.6" y="294.7" width="8.4" height="12.3" fill="#3e4140"/>
<rect x="271.6" y="294.7" width="8.4" height="3" fill="#555957"/>
<rect x="271.3" y="310.5" width="3.5" height="3" fill="#dfe6e2" opacity="0.8"/>
<rect x="276.8" y="310.5" width="3.5" height="3" fill="#dfe6e2" opacity="0.8"/>
<rect x="285.0" y="285" width="0.8" height="10" fill="#2a2f2d" opacity="0.8"/>
<rect x="287.5" y="285" width="0.8" height="10" fill="#2a2f2d" opacity="0.8"/>
<rect x="290.0" y="285" width="0.8" height="10" fill="#2a2f2d" opacity="0.8"/>
<rect x="283.7" y="294.7" width="8.4" height="12.3" fill="#3e4140"/>
<rect x="283.7" y="294.7" width="8.4" height="3" fill="#555957"/>
<rect x="283.4" y="310.5" width="3.5" height="3" fill="#dfe6e2" opacity="0.8"/>
<rect x="288.9" y="310.5" width="3.5" height="3" fill="#dfe6e2" opacity="0.8"/>
<rect x="297.1" y="285" width="0.8" height="10" fill="#2a2f2d" opacity="0.8"/>
<rect x="299.6" y="285" width="0.8" height="10" fill="#2a2f2d" opacity="0.8"/>
<rect x="302.1" y="285" width="0.8" height="10" fill="#2a2f2d" opacity="0.8"/>
<rect x="295.8" y="294.7" width="8.4" height="12.3" fill="#3e4140"/>
<rect x="295.8" y="294.7" width="8.4" height="3" fill="#555957"/>
<rect x="295.5" y="310.5" width="3.5" height="3" fill="#dfe6e2" opacity="0.8"/>
<rect x="301.0" y="310.5" width="3.5" height="3" fill="#dfe6e2" opacity="0.8"/>
<rect x="309.2" y="285" width="0.8" height="10" fill="#2a2f2d" opacity="0.8"/>
<rect x="311.7" y="285" width="0.8" height="10" fill="#2a2f2d" opacity="0.8"/>
<rect x="314.2" y="285" width="0.8" height="10" fill="#2a2f2d" opacity="0.8"/>
<rect x="307.9" y="294.7" width="8.4" height="12.3" fill="#3e4140"/>
<rect x="307.9" y="294.7" width="8.4" height="3" fill="#555957"/>
<rect x="307.6" y="310.5" width="3.5" height="3" fill="#dfe6e2" opacity="0.8"/>
<rect x="313.1" y="310.5" width="3.5" height="3" fill="#dfe6e2" opacity="0.8"/>
<rect x="321.3" y="285" width="0.8" height="10" fill="#2a2f2d" opacity="0.8"/>
<rect x="323.8" y="285" width="0.8" height="10" fill="#2a2f2d" opacity="0.8"/>
<rect x="326.3" y="285" width="0.8" height="10" fill="#2a2f2d" opacity="0.8"/>
<rect x="320.0" y="294.7" width="8.4" height="12.3" fill="#3e4140"/>
<rect x="320.0" y="294.7" width="8.4" height="3" fill="#555957"/>
<rect x="319.7" y="310.5" width="3.5" height="3" fill="#dfe6e2" opacity="0.8"/>
<rect x="325.2" y="310.5" width="3.5" height="3" fill="#dfe6e2" opacity="0.8"/>
<rect x="333.4" y="285" width="0.8" height="10" fill="#2a2f2d" opacity="0.8"/>
<rect x="335.9" y="285" width="0.8" height="10" fill="#2a2f2d" opacity="0.8"/>
<rect x="338.4" y="285" width="0.8" height="10" fill="#2a2f2d" opacity="0.8"/>
<rect x="332.1" y="294.7" width="8.4" height="12.3" fill="#3e4140"/>
<rect x="332.1" y="294.7" width="8.4" height="3" fill="#555957"/>
<rect x="331.8" y="310.5" width="3.5" height="3" fill="#dfe6e2" opacity="0.8"/>
<rect x="337.3" y="310.5" width="3.5" height="3" fill="#dfe6e2" opacity="0.8"/>
<rect x="345.5" y="285" width="0.8" height="10" fill="#2a2f2d" opacity="0.8"/>
<rect x="348.0" y="285" width="0.8" height="10" fill="#2a2f2d" opacity="0.8"/>
<rect x="350.5" y="285" width="0.8" height="10" fill="#2a2f2d" opacity="0.8"/>
<rect x="344.2" y="294.7" width="8.4" height="12.3" fill="#3e4140"/>
<rect x="344.2" y="294.7" width="8.4" height="3" fill="#555957"/>
<rect x="343.9" y="310.5" width="3.5" height="3" fill="#dfe6e2" opacity="0.8"/>
<rect x="349.4" y="310.5" width="3.5" height="3" fill="#dfe6e2" opacity="0.8"/>
<rect x="387.9" y="292.5" width="8" height="7" fill="#333635"/>
<rect x="388.79999999999995" y="289.5" width="1.2" height="3" fill="#ccd"/>
<rect x="393.79999999999995" y="289.5" width="1.2" height="3" fill="#ccd"/>
<rect x="391.29999999999995" y="299.5" width="1.2" height="3" fill="#ccd"/>
<rect x="403.8" y="292.5" width="8" height="7" fill="#333635"/>
<rect x="404.7" y="289.5" width="1.2" height="3" fill="#ccd"/>
<rect x="409.7" y="289.5" width="1.2" height="3" fill="#ccd"/>
<rect x="407.2" y="299.5" width="1.2" height="3" fill="#ccd"/>
<rect x="260.8" y="326.3" width="17" height="8" fill="#2e302f"/>
<rect x="261.6" y="324.3" width="1.1" height="2" fill="#d8d8d8"/>
<rect x="261.6" y="334.3" width="1.1" height="1.6" fill="#aab"/>
<rect x="263.8" y="324.3" width="1.1" height="2" fill="#d8d8d8"/>
<rect x="263.8" y="334.3" width="1.1" height="1.6" fill="#aab"/>
<rect x="266.0" y="324.3" width="1.1" height="2" fill="#d8d8d8"/>
<rect x="266.0" y="334.3" width="1.1" height="1.6" fill="#aab"/>
<rect x="268.2" y="324.3" width="1.1" height="2" fill="#d8d8d8"/>
<rect x="268.2" y="334.3" width="1.1" height="1.6" fill="#aab"/>
<rect x="270.4" y="324.3" width="1.1" height="2" fill="#d8d8d8"/>
<rect x="270.4" y="334.3" width="1.1" height="1.6" fill="#aab"/>
<rect x="272.6" y="324.3" width="1.1" height="2" fill="#d8d8d8"/>
<rect x="272.6" y="334.3" width="1.1" height="1.6" fill="#aab"/>
<rect x="274.8" y="324.3" width="1.1" height="2" fill="#d8d8d8"/>
<rect x="274.8" y="334.3" width="1.1" height="1.6" fill="#aab"/>
<rect x="283.5" y="326.3" width="17" height="8" fill="#2e302f"/>
<rect x="284.3" y="324.3" width="1.1" height="2" fill="#d8d8d8"/>
<rect x="284.3" y="334.3" width="1.1" height="1.6" fill="#aab"/>
<rect x="286.5" y="324.3" width="1.1" height="2" fill="#d8d8d8"/>
<rect x="286.5" y="334.3" width="1.1" height="1.6" fill="#aab"/>
<rect x="288.7" y="324.3" width="1.1" height="2" fill="#d8d8d8"/>
<rect x="288.7" y="334.3" width="1.1" height="1.6" fill="#aab"/>
<rect x="290.9" y="324.3" width="1.1" height="2" fill="#d8d8d8"/>
<rect x="290.9" y="334.3" width="1.1" height="1.6" fill="#aab"/>
<rect x="293.1" y="324.3" width="1.1" height="2" fill="#d8d8d8"/>
<rect x="293.1" y="334.3" width="1.1" height="1.6" fill="#aab"/>
<rect x="295.3" y="324.3" width="1.1" height="2" fill="#d8d8d8"/>
<rect x="295.3" y="334.3" width="1.1" height="1.6" fill="#aab"/>
<rect x="297.5" y="324.3" width="1.1" height="2" fill="#d8d8d8"/>
<rect x="297.5" y="334.3" width="1.1" height="1.6" fill="#aab"/>
<rect x="305.5" y="326.3" width="17" height="8" fill="#2e302f"/>
<rect x="306.3" y="324.3" width="1.1" height="2" fill="#d8d8d8"/>
<rect x="306.3" y="334.3" width="1.1" height="1.6" fill="#aab"/>
<rect x="308.5" y="324.3" width="1.1" height="2" fill="#d8d8d8"/>
<rect x="308.5" y="334.3" width="1.1" height="1.6" fill="#aab"/>
<rect x="310.7" y="324.3" width="1.1" height="2" fill="#d8d8d8"/>
<rect x="310.7" y="334.3" width="1.1" height="1.6" fill="#aab"/>
<rect x="312.9" y="324.3" width="1.1" height="2" fill="#d8d8d8"/>
<rect x="312.9" y="334.3" width="1.1" height="1.6" fill="#aab"/>
<rect x="315.1" y="324.3" width="1.1" height="2" fill="#d8d8d8"/>
<rect x="315.1" y="334.3" width="1.1" height="1.6" fill="#aab"/>
<rect x="317.3" y="324.3" width="1.1" height="2" fill="#d8d8d8"/>
<rect x="317.3" y="334.3" width="1.1" height="1.6" fill="#aab"/>
<rect x="319.5" y="324.3" width="1.1" height="2" fill="#d8d8d8"/>
<rect x="319.5" y="334.3" width="1.1" height="1.6" fill="#aab"/>
<rect x="327" y="326.3" width="17" height="8" fill="#2e302f"/>
<rect x="327.8" y="324.3" width="1.1" height="2" fill="#d8d8d8"/>
<rect x="327.8" y="334.3" width="1.1" height="1.6" fill="#aab"/>
<rect x="330.0" y="324.3" width="1.1" height="2" fill="#d8d8d8"/>
<rect x="330.0" y="334.3" width="1.1" height="1.6" fill="#aab"/>
<rect x="332.2" y="324.3" width="1.1" height="2" fill="#d8d8d8"/>
<rect x="332.2" y="334.3" width="1.1" height="1.6" fill="#aab"/>
<rect x="334.4" y="324.3" width="1.1" height="2" fill="#d8d8d8"/>
<rect x="334.4" y="334.3" width="1.1" height="1.6" fill="#aab"/>
<rect x="336.6" y="324.3" width="1.1" height="2" fill="#d8d8d8"/>
<rect x="336.6" y="334.3" width="1.1" height="1.6" fill="#aab"/>
<rect x="338.8" y="324.3" width="1.1" height="2" fill="#d8d8d8"/>
<rect x="338.8" y="334.3" width="1.1" height="1.6" fill="#aab"/>
<rect x="341.0" y="324.3" width="1.1" height="2" fill="#d8d8d8"/>
<rect x="341.0" y="334.3" width="1.1" height="1.6" fill="#aab"/>
<rect x="241" y="372.7" width="18" height="8" fill="#2e302f"/>
<rect x="241.8" y="370.7" width="1.1" height="2" fill="#d8d8d8"/>
<rect x="241.8" y="380.7" width="1.1" height="1.6" fill="#aab"/>
<rect x="244.0" y="370.7" width="1.1" height="2" fill="#d8d8d8"/>
<rect x="244.0" y="380.7" width="1.1" height="1.6" fill="#aab"/>
<rect x="246.2" y="370.7" width="1.1" height="2" fill="#d8d8d8"/>
<rect x="246.2" y="380.7" width="1.1" height="1.6" fill="#aab"/>
<rect x="248.4" y="370.7" width="1.1" height="2" fill="#d8d8d8"/>
<rect x="248.4" y="380.7" width="1.1" height="1.6" fill="#aab"/>
<rect x="250.6" y="370.7" width="1.1" height="2" fill="#d8d8d8"/>
<rect x="250.6" y="380.7" width="1.1" height="1.6" fill="#aab"/>
<rect x="252.8" y="370.7" width="1.1" height="2" fill="#d8d8d8"/>
<rect x="252.8" y="380.7" width="1.1" height="1.6" fill="#aab"/>
<rect x="255.0" y="370.7" width="1.1" height="2" fill="#d8d8d8"/>
<rect x="255.0" y="380.7" width="1.1" height="1.6" fill="#aab"/>
<rect x="257.2" y="370.7" width="1.1" height="2" fill="#d8d8d8"/>
<rect x="257.2" y="380.7" width="1.1" height="1.6" fill="#aab"/>
<rect x="375.2" y="314" width="13.6" height="35.3" fill="#252626"/>
<rect x="373.5" y="315.0" width="1.7" height="2" fill="#ddd"/>
<rect x="388.8" y="315.0" width="1.7" height="2" fill="#ddd"/>
<rect x="373.5" y="319.3" width="1.7" height="2" fill="#ddd"/>
<rect x="388.8" y="319.3" width="1.7" height="2" fill="#ddd"/>
<rect x="373.5" y="323.6" width="1.7" height="2" fill="#ddd"/>
<rect x="388.8" y="323.6" width="1.7" height="2" fill="#ddd"/>
<rect x="373.5" y="327.9" width="1.7" height="2" fill="#ddd"/>
<rect x="388.8" y="327.9" width="1.7" height="2" fill="#ddd"/>
<rect x="373.5" y="332.2" width="1.7" height="2" fill="#ddd"/>
<rect x="388.8" y="332.2" width="1.7" height="2" fill="#ddd"/>
<rect x="373.5" y="336.5" width="1.7" height="2" fill="#ddd"/>
<rect x="388.8" y="336.5" width="1.7" height="2" fill="#ddd"/>
<rect x="373.5" y="340.8" width="1.7" height="2" fill="#ddd"/>
<rect x="388.8" y="340.8" width="1.7" height="2" fill="#ddd"/>
<rect x="373.5" y="345.1" width="1.7" height="2" fill="#ddd"/>
<rect x="388.8" y="345.1" width="1.7" height="2" fill="#ddd"/>
<rect x="197.5" y="333.0" width="4" height="2.6" fill="#e3ebe7" opacity="0.85"/>
<rect x="197.5" y="338.2" width="4" height="2.6" fill="#e3ebe7" opacity="0.85"/>
<rect x="197.5" y="343.4" width="4" height="2.6" fill="#e3ebe7" opacity="0.85"/>
<rect x="197.5" y="348.6" width="4" height="2.6" fill="#e3ebe7" opacity="0.85"/>
<rect x="197.5" y="353.8" width="4" height="2.6" fill="#e3ebe7" opacity="0.85"/>
<rect x="197.5" y="359.0" width="4" height="2.6" fill="#e3ebe7" opacity="0.85"/>
<rect x="197.5" y="364.2" width="4" height="2.6" fill="#e3ebe7" opacity="0.85"/>
<rect x="197.5" y="369.4" width="4" height="2.6" fill="#e3ebe7" opacity="0.85"/>
<rect x="197.5" y="374.6" width="4" height="2.6" fill="#e3ebe7" opacity="0.85"/>
<rect x="197.5" y="379.8" width="4" height="2.6" fill="#e3ebe7" opacity="0.85"/>
<rect x="197.5" y="385.0" width="4" height="2.6" fill="#e3ebe7" opacity="0.85"/>
<rect x="197.5" y="390.2" width="4" height="2.6" fill="#e3ebe7" opacity="0.85"/>
<rect x="209.0" y="333.0" width="4" height="2.6" fill="#e3ebe7" opacity="0.85"/>
<rect x="209.0" y="338.2" width="4" height="2.6" fill="#e3ebe7" opacity="0.85"/>
<rect x="209.0" y="343.4" width="4" height="2.6" fill="#e3ebe7" opacity="0.85"/>
<rect x="209.0" y="348.6" width="4" height="2.6" fill="#e3ebe7" opacity="0.85"/>
<rect x="209.0" y="353.8" width="4" height="2.6" fill="#e3ebe7" opacity="0.85"/>
<rect x="209.0" y="359.0" width="4" height="2.6" fill="#e3ebe7" opacity="0.85"/>
<rect x="209.0" y="364.2" width="4" height="2.6" fill="#e3ebe7" opacity="0.85"/>
<rect x="209.0" y="369.4" width="4" height="2.6" fill="#e3ebe7" opacity="0.85"/>
<rect x="209.0" y="374.6" width="4" height="2.6" fill="#e3ebe7" opacity="0.85"/>
<rect x="209.0" y="379.8" width="4" height="2.6" fill="#e3ebe7" opacity="0.85"/>
<rect x="209.0" y="385.0" width="4" height="2.6" fill="#e3ebe7" opacity="0.85"/>
<rect x="209.0" y="390.2" width="4" height="2.6" fill="#e3ebe7" opacity="0.85"/>
<rect x="214.2" y="333.0" width="4" height="2.6" fill="#e3ebe7" opacity="0.85"/>
<rect x="214.2" y="338.2" width="4" height="2.6" fill="#e3ebe7" opacity="0.85"/>
<rect x="214.2" y="343.4" width="4" height="2.6" fill="#e3ebe7" opacity="0.85"/>
<rect x="214.2" y="348.6" width="4" height="2.6" fill="#e3ebe7" opacity="0.85"/>
<rect x="214.2" y="353.8" width="4" height="2.6" fill="#e3ebe7" opacity="0.85"/>
<rect x="214.2" y="359.0" width="4" height="2.6" fill="#e3ebe7" opacity="0.85"/>
<rect x="214.2" y="364.2" width="4" height="2.6" fill="#e3ebe7" opacity="0.85"/>
<rect x="214.2" y="369.4" width="4" height="2.6" fill="#e3ebe7" opacity="0.85"/>
<rect x="214.2" y="374.6" width="4" height="2.6" fill="#e3ebe7" opacity="0.85"/>
<rect x="214.2" y="379.8" width="4" height="2.6" fill="#e3ebe7" opacity="0.85"/>
<rect x="214.2" y="385.0" width="4" height="2.6" fill="#e3ebe7" opacity="0.85"/>
<rect x="214.2" y="390.2" width="4" height="2.6" fill="#e3ebe7" opacity="0.85"/>
<rect x="265.0" y="346.0" width="5" height="2.8" fill="#e3ebe7" opacity="0.85"/>
<rect x="265.0" y="351.2" width="5" height="2.8" fill="#e3ebe7" opacity="0.85"/>
<rect x="265.0" y="356.4" width="5" height="2.8" fill="#e3ebe7" opacity="0.85"/>
<rect x="265.0" y="361.6" width="5" height="2.8" fill="#e3ebe7" opacity="0.85"/>
<rect x="271.0" y="346.0" width="5" height="2.8" fill="#e3ebe7" opacity="0.85"/>
<rect x="271.0" y="351.2" width="5" height="2.8" fill="#e3ebe7" opacity="0.85"/>
<rect x="271.0" y="356.4" width="5" height="2.8" fill="#e3ebe7" opacity="0.85"/>
<rect x="271.0" y="361.6" width="5" height="2.8" fill="#e3ebe7" opacity="0.85"/>
<rect x="289.0" y="346.0" width="5" height="2.8" fill="#e3ebe7" opacity="0.85"/>
<rect x="289.0" y="351.2" width="5" height="2.8" fill="#e3ebe7" opacity="0.85"/>
<rect x="289.0" y="356.4" width="5" height="2.8" fill="#e3ebe7" opacity="0.85"/>
<rect x="289.0" y="361.6" width="5" height="2.8" fill="#e3ebe7" opacity="0.85"/>
<rect x="295.0" y="346.0" width="5" height="2.8" fill="#e3ebe7" opacity="0.85"/>
<rect x="295.0" y="351.2" width="5" height="2.8" fill="#e3ebe7" opacity="0.85"/>
<rect x="295.0" y="356.4" width="5" height="2.8" fill="#e3ebe7" opacity="0.85"/>
<rect x="295.0" y="361.6" width="5" height="2.8" fill="#e3ebe7" opacity="0.85"/>
<rect x="313.0" y="346.0" width="5" height="2.8" fill="#e3ebe7" opacity="0.85"/>
<rect x="313.0" y="351.2" width="5" height="2.8" fill="#e3ebe7" opacity="0.85"/>
<rect x="313.0" y="356.4" width="5" height="2.8" fill="#e3ebe7" opacity="0.85"/>
<rect x="313.0" y="361.6" width="5" height="2.8" fill="#e3ebe7" opacity="0.85"/>
<rect x="319.0" y="346.0" width="5" height="2.8" fill="#e3ebe7" opacity="0.85"/>
<rect x="319.0" y="351.2" width="5" height="2.8" fill="#e3ebe7" opacity="0.85"/>
<rect x="319.0" y="356.4" width="5" height="2.8" fill="#e3ebe7" opacity="0.85"/>
<rect x="319.0" y="361.6" width="5" height="2.8" fill="#e3ebe7" opacity="0.85"/>
<rect x="337.0" y="346.0" width="5" height="2.8" fill="#e3ebe7" opacity="0.85"/>
<rect x="337.0" y="351.2" width="5" height="2.8" fill="#e3ebe7" opacity="0.85"/>
<rect x="337.0" y="356.4" width="5" height="2.8" fill="#e3ebe7" opacity="0.85"/>
<rect x="337.0" y="361.6" width="5" height="2.8" fill="#e3ebe7" opacity="0.85"/>
<rect x="343.0" y="346.0" width="5" height="2.8" fill="#e3ebe7" opacity="0.85"/>
<rect x="343.0" y="351.2" width="5" height="2.8" fill="#e3ebe7" opacity="0.85"/>
<rect x="343.0" y="356.4" width="5" height="2.8" fill="#e3ebe7" opacity="0.85"/>
<rect x="343.0" y="361.6" width="5" height="2.8" fill="#e3ebe7" opacity="0.85"/>
<rect x="222.0" y="346.0" width="4" height="2.5" fill="#e3ebe7" opacity="0.6"/>
<rect x="222.0" y="351.2" width="4" height="2.5" fill="#e3ebe7" opacity="0.6"/>
<rect x="222.0" y="356.4" width="4" height="2.5" fill="#e3ebe7" opacity="0.6"/>
<rect x="222.0" y="361.6" width="4" height="2.5" fill="#e3ebe7" opacity="0.6"/>
<rect x="281.0" y="317.0" width="3.2" height="2.2" fill="#e3ebe7" opacity="0.7"/>
<rect x="281.0" y="321.2" width="3.2" height="2.2" fill="#e3ebe7" opacity="0.7"/>
<rect x="281.0" y="325.4" width="3.2" height="2.2" fill="#e3ebe7" opacity="0.7"/>
<rect x="281.0" y="329.6" width="3.2" height="2.2" fill="#e3ebe7" opacity="0.7"/>
<rect x="285.5" y="317.0" width="3.2" height="2.2" fill="#e3ebe7" opacity="0.7"/>
<rect x="285.5" y="321.2" width="3.2" height="2.2" fill="#e3ebe7" opacity="0.7"/>
<rect x="285.5" y="325.4" width="3.2" height="2.2" fill="#e3ebe7" opacity="0.7"/>
<rect x="285.5" y="329.6" width="3.2" height="2.2" fill="#e3ebe7" opacity="0.7"/>
<rect x="349.0" y="353.0" width="4" height="2.5" fill="#e3ebe7" opacity="0.75"/>
<rect x="349.0" y="358.0" width="4" height="2.5" fill="#e3ebe7" opacity="0.75"/>
<rect x="349.0" y="363.0" width="4" height="2.5" fill="#e3ebe7" opacity="0.75"/>
<rect x="349.0" y="368.0" width="4" height="2.5" fill="#e3ebe7" opacity="0.75"/>
<rect x="349.0" y="373.0" width="4" height="2.5" fill="#e3ebe7" opacity="0.75"/>
<rect x="349.0" y="378.0" width="4" height="2.5" fill="#e3ebe7" opacity="0.75"/>
<rect x="349.0" y="383.0" width="4" height="2.5" fill="#e3ebe7" opacity="0.75"/>
<rect x="349.0" y="388.0" width="4" height="2.5" fill="#e3ebe7" opacity="0.75"/>
<rect x="354.5" y="353.0" width="4" height="2.5" fill="#e3ebe7" opacity="0.75"/>
<rect x="354.5" y="358.0" width="4" height="2.5" fill="#e3ebe7" opacity="0.75"/>
<rect x="354.5" y="363.0" width="4" height="2.5" fill="#e3ebe7" opacity="0.75"/>
<rect x="354.5" y="368.0" width="4" height="2.5" fill="#e3ebe7" opacity="0.75"/>
<rect x="354.5" y="373.0" width="4" height="2.5" fill="#e3ebe7" opacity="0.75"/>
<rect x="354.5" y="378.0" width="4" height="2.5" fill="#e3ebe7" opacity="0.75"/>
<rect x="354.5" y="383.0" width="4" height="2.5" fill="#e3ebe7" opacity="0.75"/>
<rect x="354.5" y="388.0" width="4" height="2.5" fill="#e3ebe7" opacity="0.75"/>
<rect x="360.0" y="353.0" width="4" height="2.5" fill="#e3ebe7" opacity="0.75"/>
<rect x="360.0" y="358.0" width="4" height="2.5" fill="#e3ebe7" opacity="0.75"/>
<rect x="360.0" y="363.0" width="4" height="2.5" fill="#e3ebe7" opacity="0.75"/>
<rect x="360.0" y="368.0" width="4" height="2.5" fill="#e3ebe7" opacity="0.75"/>
<rect x="360.0" y="373.0" width="4" height="2.5" fill="#e3ebe7" opacity="0.75"/>
<rect x="360.0" y="378.0" width="4" height="2.5" fill="#e3ebe7" opacity="0.75"/>
<rect x="360.0" y="383.0" width="4" height="2.5" fill="#e3ebe7" opacity="0.75"/>
<rect x="360.0" y="388.0" width="4" height="2.5" fill="#e3ebe7" opacity="0.75"/>
<rect x="420.0" y="281.5" width="7" height="3.5" fill="#e3ebe7" opacity="0.85"/>
<rect x="420.0" y="287.5" width="7" height="3.5" fill="#e3ebe7" opacity="0.85"/>
<rect x="420.0" y="293.5" width="7" height="3.5" fill="#e3ebe7" opacity="0.85"/>
<rect x="429.8" y="281.5" width="7" height="3.5" fill="#e3ebe7" opacity="0.85"/>
<rect x="429.8" y="287.5" width="7" height="3.5" fill="#e3ebe7" opacity="0.85"/>
<rect x="429.8" y="293.5" width="7" height="3.5" fill="#e3ebe7" opacity="0.85"/>
<rect x="439.6" y="281.5" width="7" height="3.5" fill="#e3ebe7" opacity="0.85"/>
<rect x="439.6" y="287.5" width="7" height="3.5" fill="#e3ebe7" opacity="0.85"/>
<rect x="439.6" y="293.5" width="7" height="3.5" fill="#e3ebe7" opacity="0.85"/>
<rect x="449.4" y="281.5" width="7" height="3.5" fill="#e3ebe7" opacity="0.85"/>
<rect x="449.4" y="287.5" width="7" height="3.5" fill="#e3ebe7" opacity="0.85"/>
<rect x="449.4" y="293.5" width="7" height="3.5" fill="#e3ebe7" opacity="0.85"/>
<rect x="420.0" y="321.6" width="7" height="3.5" fill="#e3ebe7" opacity="0.7"/>
<rect x="429.8" y="321.6" width="7" height="3.5" fill="#e3ebe7" opacity="0.7"/>
<rect x="439.6" y="321.6" width="7" height="3.5" fill="#e3ebe7" opacity="0.7"/>
<rect x="449.4" y="321.6" width="7" height="3.5" fill="#e3ebe7" opacity="0.7"/>
<rect x="402.0" y="353.0" width="4" height="2.6" fill="#e3ebe7" opacity="0.8"/>
<rect x="402.0" y="358.2" width="4" height="2.6" fill="#e3ebe7" opacity="0.8"/>
<rect x="402.0" y="363.4" width="4" height="2.6" fill="#e3ebe7" opacity="0.8"/>
<rect x="402.0" y="368.6" width="4" height="2.6" fill="#e3ebe7" opacity="0.8"/>
<rect x="402.0" y="373.8" width="4" height="2.6" fill="#e3ebe7" opacity="0.8"/>
<rect x="402.0" y="379.0" width="4" height="2.6" fill="#e3ebe7" opacity="0.8"/>
<rect x="408.0" y="353.0" width="4" height="2.6" fill="#e3ebe7" opacity="0.8"/>
<rect x="408.0" y="358.2" width="4" height="2.6" fill="#e3ebe7" opacity="0.8"/>
<rect x="408.0" y="363.4" width="4" height="2.6" fill="#e3ebe7" opacity="0.8"/>
<rect x="408.0" y="368.6" width="4" height="2.6" fill="#e3ebe7" opacity="0.8"/>
<rect x="408.0" y="373.8" width="4" height="2.6" fill="#e3ebe7" opacity="0.8"/>
<rect x="408.0" y="379.0" width="4" height="2.6" fill="#e3ebe7" opacity="0.8"/>
<rect x="381.0" y="386.0" width="4.5" height="2.6" fill="#e3ebe7" opacity="0.7"/>
<rect x="381.0" y="391.5" width="4.5" height="2.6" fill="#e3ebe7" opacity="0.7"/>
<rect x="381.0" y="397.0" width="4.5" height="2.6" fill="#e3ebe7" opacity="0.7"/>
<rect x="381.0" y="402.5" width="4.5" height="2.6" fill="#e3ebe7" opacity="0.7"/>
<rect x="381.0" y="408.0" width="4.5" height="2.6" fill="#e3ebe7" opacity="0.7"/>
<rect x="381.0" y="413.5" width="4.5" height="2.6" fill="#e3ebe7" opacity="0.7"/>
<rect x="381.0" y="419.0" width="4.5" height="2.6" fill="#e3ebe7" opacity="0.7"/>
<rect x="387.0" y="386.0" width="4.5" height="2.6" fill="#e3ebe7" opacity="0.7"/>
<rect x="387.0" y="391.5" width="4.5" height="2.6" fill="#e3ebe7" opacity="0.7"/>
<rect x="387.0" y="397.0" width="4.5" height="2.6" fill="#e3ebe7" opacity="0.7"/>
<rect x="387.0" y="402.5" width="4.5" height="2.6" fill="#e3ebe7" opacity="0.7"/>
<rect x="387.0" y="408.0" width="4.5" height="2.6" fill="#e3ebe7" opacity="0.7"/>
<rect x="387.0" y="413.5" width="4.5" height="2.6" fill="#e3ebe7" opacity="0.7"/>
<rect x="387.0" y="419.0" width="4.5" height="2.6" fill="#e3ebe7" opacity="0.7"/>
<rect x="404.0" y="390.0" width="5" height="2.6" fill="#e3ebe7" opacity="0.7"/>
<rect x="404.0" y="396.0" width="5" height="2.6" fill="#e3ebe7" opacity="0.7"/>
<rect x="404.0" y="402.0" width="5" height="2.6" fill="#e3ebe7" opacity="0.7"/>
<rect x="404.0" y="408.0" width="5" height="2.6" fill="#e3ebe7" opacity="0.7"/>
<rect x="404.0" y="414.0" width="5" height="2.6" fill="#e3ebe7" opacity="0.7"/>
<rect x="404.0" y="420.0" width="5" height="2.6" fill="#e3ebe7" opacity="0.7"/>
<rect x="296" y="369" width="62" height="2.5" fill="#e3ebe7" opacity="0.7"/>
<rect x="378" y="384" width="22" height="36" fill="none" stroke="#d8ece4" stroke-width="0.6" opacity="0.6"/>
<rect x="211.7" y="401.2" width="8.6" height="10" fill="#dfe5e1"/>
<rect x="213.4" y="403" width="1.6" height="5.5" fill="#9a6a5a"/>
<rect x="217.0" y="403" width="1.6" height="5.5" fill="#9a6a5a"/>
<rect x="212.2" y="412.6" width="7.6" height="10.4" fill="#333535"/>
<rect x="211.7" y="424.9" width="8.6" height="9.4" fill="#d6ddd9"/>
<rect x="213.4" y="426.5" width="1.6" height="5" fill="#a08878" opacity="0.7"/>
<rect x="217.0" y="426.5" width="1.6" height="5" fill="#a08878" opacity="0.7"/>
<rect x="223.6" y="401.2" width="8.6" height="10" fill="#dfe5e1"/>
<rect x="225.3" y="403" width="1.6" height="5.5" fill="#9a6a5a"/>
<rect x="228.9" y="403" width="1.6" height="5.5" fill="#9a6a5a"/>
<rect x="224.1" y="412.6" width="7.6" height="10.4" fill="#333535"/>
<rect x="223.6" y="424.9" width="8.6" height="9.4" fill="#d6ddd9"/>
<rect x="225.3" y="426.5" width="1.6" height="5" fill="#a08878" opacity="0.7"/>
<rect x="228.9" y="426.5" width="1.6" height="5" fill="#a08878" opacity="0.7"/>
<rect x="235.5" y="401.2" width="8.6" height="10" fill="#dfe5e1"/>
<rect x="237.2" y="403" width="1.6" height="5.5" fill="#9a6a5a"/>
<rect x="240.8" y="403" width="1.6" height="5.5" fill="#9a6a5a"/>
<rect x="236.0" y="412.6" width="7.6" height="10.4" fill="#333535"/>
<rect x="235.5" y="424.9" width="8.6" height="9.4" fill="#d6ddd9"/>
<rect x="237.2" y="426.5" width="1.6" height="5" fill="#a08878" opacity="0.7"/>
<rect x="240.8" y="426.5" width="1.6" height="5" fill="#a08878" opacity="0.7"/>
<rect x="247.4" y="401.2" width="8.6" height="10" fill="#dfe5e1"/>
<rect x="249.1" y="403" width="1.6" height="5.5" fill="#9a6a5a"/>
<rect x="252.7" y="403" width="1.6" height="5.5" fill="#9a6a5a"/>
<rect x="247.9" y="412.6" width="7.6" height="10.4" fill="#333535"/>
<rect x="247.4" y="424.9" width="8.6" height="9.4" fill="#d6ddd9"/>
<rect x="249.1" y="426.5" width="1.6" height="5" fill="#a08878" opacity="0.7"/>
<rect x="252.7" y="426.5" width="1.6" height="5" fill="#a08878" opacity="0.7"/>
<rect x="259.3" y="401.2" width="8.6" height="10" fill="#dfe5e1"/>
<rect x="261.0" y="403" width="1.6" height="5.5" fill="#9a6a5a"/>
<rect x="264.6" y="403" width="1.6" height="5.5" fill="#9a6a5a"/>
<rect x="259.8" y="412.6" width="7.6" height="10.4" fill="#333535"/>
<rect x="259.3" y="424.9" width="8.6" height="9.4" fill="#d6ddd9"/>
<rect x="261.0" y="426.5" width="1.6" height="5" fill="#a08878" opacity="0.7"/>
<rect x="264.6" y="426.5" width="1.6" height="5" fill="#a08878" opacity="0.7"/>
<rect x="271.2" y="401.2" width="8.6" height="10" fill="#dfe5e1"/>
<rect x="272.9" y="403" width="1.6" height="5.5" fill="#9a6a5a"/>
<rect x="276.5" y="403" width="1.6" height="5.5" fill="#9a6a5a"/>
<rect x="271.7" y="412.6" width="7.6" height="10.4" fill="#333535"/>
<rect x="271.2" y="424.9" width="8.6" height="9.4" fill="#d6ddd9"/>
<rect x="272.9" y="426.5" width="1.6" height="5" fill="#a08878" opacity="0.7"/>
<rect x="276.5" y="426.5" width="1.6" height="5" fill="#a08878" opacity="0.7"/>
<rect x="283.1" y="401.2" width="8.6" height="10" fill="#dfe5e1"/>
<rect x="284.8" y="403" width="1.6" height="5.5" fill="#9a6a5a"/>
<rect x="288.4" y="403" width="1.6" height="5.5" fill="#9a6a5a"/>
<rect x="283.6" y="412.6" width="7.6" height="10.4" fill="#333535"/>
<rect x="283.1" y="424.9" width="8.6" height="9.4" fill="#d6ddd9"/>
<rect x="284.8" y="426.5" width="1.6" height="5" fill="#a08878" opacity="0.7"/>
<rect x="288.4" y="426.5" width="1.6" height="5" fill="#a08878" opacity="0.7"/>
<rect x="295.0" y="401.2" width="8.6" height="10" fill="#dfe5e1"/>
<rect x="296.7" y="403" width="1.6" height="5.5" fill="#9a6a5a"/>
<rect x="300.3" y="403" width="1.6" height="5.5" fill="#9a6a5a"/>
<rect x="295.5" y="412.6" width="7.6" height="10.4" fill="#333535"/>
<rect x="295.0" y="424.9" width="8.6" height="9.4" fill="#d6ddd9"/>
<rect x="296.7" y="426.5" width="1.6" height="5" fill="#a08878" opacity="0.7"/>
<rect x="300.3" y="426.5" width="1.6" height="5" fill="#a08878" opacity="0.7"/>
<rect x="306.9" y="401.2" width="8.6" height="10" fill="#dfe5e1"/>
<rect x="308.6" y="403" width="1.6" height="5.5" fill="#9a6a5a"/>
<rect x="312.2" y="403" width="1.6" height="5.5" fill="#9a6a5a"/>
<rect x="307.4" y="412.6" width="7.6" height="10.4" fill="#333535"/>
<rect x="306.9" y="424.9" width="8.6" height="9.4" fill="#d6ddd9"/>
<rect x="308.6" y="426.5" width="1.6" height="5" fill="#a08878" opacity="0.7"/>
<rect x="312.2" y="426.5" width="1.6" height="5" fill="#a08878" opacity="0.7"/>
<rect x="318.8" y="401.2" width="8.6" height="10" fill="#dfe5e1"/>
<rect x="320.5" y="403" width="1.6" height="5.5" fill="#9a6a5a"/>
<rect x="324.1" y="403" width="1.6" height="5.5" fill="#9a6a5a"/>
<rect x="319.3" y="412.6" width="7.6" height="10.4" fill="#333535"/>
<rect x="318.8" y="424.9" width="8.6" height="9.4" fill="#d6ddd9"/>
<rect x="320.5" y="426.5" width="1.6" height="5" fill="#a08878" opacity="0.7"/>
<rect x="324.1" y="426.5" width="1.6" height="5" fill="#a08878" opacity="0.7"/>
<rect x="330.7" y="401.2" width="8.6" height="10" fill="#dfe5e1"/>
<rect x="332.4" y="403" width="1.6" height="5.5" fill="#9a6a5a"/>
<rect x="336.0" y="403" width="1.6" height="5.5" fill="#9a6a5a"/>
<rect x="331.2" y="412.6" width="7.6" height="10.4" fill="#333535"/>
<rect x="330.7" y="424.9" width="8.6" height="9.4" fill="#d6ddd9"/>
<rect x="332.4" y="426.5" width="1.6" height="5" fill="#a08878" opacity="0.7"/>
<rect x="336.0" y="426.5" width="1.6" height="5" fill="#a08878" opacity="0.7"/>
<rect x="342.6" y="401.2" width="8.6" height="10" fill="#dfe5e1"/>
<rect x="344.3" y="403" width="1.6" height="5.5" fill="#9a6a5a"/>
<rect x="347.9" y="403" width="1.6" height="5.5" fill="#9a6a5a"/>
<rect x="343.1" y="412.6" width="7.6" height="10.4" fill="#333535"/>
<rect x="342.6" y="424.9" width="8.6" height="9.4" fill="#d6ddd9"/>
<rect x="344.3" y="426.5" width="1.6" height="5" fill="#a08878" opacity="0.7"/>
<rect x="347.9" y="426.5" width="1.6" height="5" fill="#a08878" opacity="0.7"/>
<rect x="200.0" y="404.0" width="4.5" height="2.6" fill="#e3ebe7" opacity="0.85"/>
<rect x="200.0" y="409.5" width="4.5" height="2.6" fill="#e3ebe7" opacity="0.85"/>
<rect x="200.0" y="415.0" width="4.5" height="2.6" fill="#e3ebe7" opacity="0.85"/>
<rect x="200.0" y="420.5" width="4.5" height="2.6" fill="#e3ebe7" opacity="0.85"/>
<rect x="200.0" y="426.0" width="4.5" height="2.6" fill="#e3ebe7" opacity="0.85"/>
<rect x="194.5" y="406" width="4" height="12" fill="#333"/>
<rect x="372.9" y="351.6" width="17" height="34" fill="#d56f89"/>
<rect x="375" y="353.5" width="6" height="2.2" fill="#f0c4d0"/>
<rect x="375" y="357.6" width="6" height="2.2" fill="#f0c4d0"/>
<rect x="375" y="361.7" width="6" height="2.2" fill="#f0c4d0"/>
<rect x="375" y="365.8" width="6" height="2.2" fill="#f0c4d0"/>
<rect x="375" y="369.9" width="6" height="2.2" fill="#f0c4d0"/>
<rect x="375" y="374.0" width="6" height="2.2" fill="#f0c4d0"/>
<rect x="375" y="378.1" width="6" height="2.2" fill="#f0c4d0"/>
<rect x="375" y="382.2" width="6" height="2.2" fill="#f0c4d0"/>
<circle cx="425" cy="347" r="5.5" fill="none" stroke="#cfe0d8" stroke-width="0.6" opacity="0.7"/>
<circle cx="425" cy="347" r="3.8" fill="#2c2e2e"/>
<circle cx="425" cy="374.3" r="5.5" fill="none" stroke="#cfe0d8" stroke-width="0.6" opacity="0.7"/>
<circle cx="425" cy="374.3" r="3.8" fill="#2c2e2e"/>
<rect x="439.3" y="303.4" width="15" height="12" fill="#3f74c8"/>
<rect x="443" y="306" width="7" height="6" fill="#6b98dd"/>
<rect x="432.8" y="336.8" width="43.3" height="26.69999999999999" fill="#4676c2"/>
<rect x="432.8" y="336.8" width="43.3" height="26.69999999999999" fill="none" stroke="#2c548f" stroke-width="0.8"/>
<ellipse cx="444" cy="348.8" rx="3" ry="2.2" fill="#dfe7f4"/>
<rect x="441" y="339.8" width="30" height="0.9" fill="#a9c0e6"/>
<rect x="441" y="342.4" width="30" height="0.9" fill="#a9c0e6"/>
<rect x="441" y="345.0" width="30" height="0.9" fill="#a9c0e6"/>
<rect x="451" y="348.8" width="20" height="1" fill="#a9c0e6"/>
<rect x="458" y="352.8" width="13" height="5" fill="#e9eef7"/>
<rect x="432.8" y="364.6" width="43.3" height="25.69999999999999" fill="#4676c2"/>
<rect x="432.8" y="364.6" width="43.3" height="25.69999999999999" fill="none" stroke="#2c548f" stroke-width="0.8"/>
<ellipse cx="444" cy="376.6" rx="3" ry="2.2" fill="#dfe7f4"/>
<rect x="441" y="367.6" width="30" height="0.9" fill="#a9c0e6"/>
<rect x="441" y="370.2" width="30" height="0.9" fill="#a9c0e6"/>
<rect x="441" y="372.8" width="30" height="0.9" fill="#a9c0e6"/>
<rect x="451" y="376.6" width="20" height="1" fill="#a9c0e6"/>
<rect x="458" y="380.6" width="13" height="5" fill="#e9eef7"/>
<circle cx="432.8" cy="405.3" r="11.5" fill="none" stroke="#d6e8e0" stroke-width="0.7" opacity="0.8"/>
<circle cx="432.8" cy="405.3" r="8.5" fill="#26302d"/>
<ellipse cx="435.8" cy="407.8" rx="6.5" ry="5.5" fill="#c9cac6"/>
<ellipse cx="435.8" cy="407.8" rx="3" ry="2" fill="#e8e8e6"/>
<circle cx="455.3" cy="405.3" r="11.5" fill="none" stroke="#d6e8e0" stroke-width="0.7" opacity="0.8"/>
<circle cx="455.3" cy="405.3" r="8.5" fill="#26302d"/>
<ellipse cx="458.3" cy="407.8" rx="6.5" ry="5.5" fill="#c9cac6"/>
<ellipse cx="458.3" cy="407.8" rx="3" ry="2" fill="#e8e8e6"/>
<circle cx="432.8" cy="432" r="11.5" fill="none" stroke="#d6e8e0" stroke-width="0.7" opacity="0.8"/>
<circle cx="432.8" cy="432" r="8.5" fill="#26302d"/>
<ellipse cx="435.8" cy="434.5" rx="6.5" ry="5.5" fill="#c9cac6"/>
<ellipse cx="435.8" cy="434.5" rx="3" ry="2" fill="#e8e8e6"/>
<circle cx="455.3" cy="432" r="11.5" fill="none" stroke="#d6e8e0" stroke-width="0.7" opacity="0.8"/>
<circle cx="455.3" cy="432" r="8.5" fill="#26302d"/>
<ellipse cx="458.3" cy="434.5" rx="6.5" ry="5.5" fill="#c9cac6"/>
<ellipse cx="458.3" cy="434.5" rx="3" ry="2" fill="#e8e8e6"/>
<rect x="423.3" y="446.8" width="21.1" height="13.2" fill="#b9b9b5"/>
<rect x="423.3" y="446.8" width="21.1" height="2.5" fill="#dcdcd8"/>
<rect x="450.6" y="446.8" width="21.2" height="13.2" fill="#b9b9b5"/>
<rect x="450.6" y="446.8" width="21.2" height="2.5" fill="#dcdcd8"/>
<path d="M446,443 L450,444 L452.5,462.5 L447,462.5 Z" fill="#232323"/>
<path d="M468.5,443 L473,444 L476.2,462.5 L470.5,462.5 Z" fill="#232323"/>
<rect x="452" y="449" width="16" height="3" fill="#e6e6e2"/>
<rect x="150" y="328.8" width="11" height="62" rx="2" fill="#a9a8a1"/>
<rect x="151.5" y="331" width="4" height="57" fill="#d3d2cc"/>
<rect x="159.4" y="316.5" width="29" height="87.5" fill="#1e1f22"/>
<rect x="166" y="323" width="19" height="74" fill="#2e3035"/>
<rect x="157" y="317.1" width="28" height="7" fill="#85847e"/>
<rect x="167" y="318.1" width="15" height="4" fill="#d6d6d0"/>
<rect x="153" y="319.6" width="6" height="2" fill="#aaa"/>
<rect x="157" y="395.3" width="28" height="7" fill="#85847e"/>
<rect x="167" y="396.3" width="15" height="4" fill="#d6d6d0"/>
<rect x="153" y="397.8" width="6" height="2" fill="#aaa"/>
<rect x="193" y="257.8" width="207" height="24.7" fill="#98c995"/>
<rect x="193" y="257.8" width="207" height="10.5" fill="#aad5a6"/>
<line x1="193" y1="282.5" x2="400" y2="282.5" stroke="#4f7d55" stroke-width="1"/>
<rect x="192.6" y="270.5" width="6" height="7" fill="#f2f5ee"/>
<rect x="192.6" y="270.5" width="6" height="3" fill="#6f8a72"/>
<rect x="192.6" y="270.5" width="6" height="7" fill="none" stroke="#7a9a7a" stroke-width="0.5"/>
<rect x="203.0" y="270.5" width="6" height="7" fill="#f2f5ee"/>
<rect x="203.0" y="270.5" width="6" height="3" fill="#6f8a72"/>
<rect x="203.0" y="270.5" width="6" height="7" fill="none" stroke="#7a9a7a" stroke-width="0.5"/>
<rect x="213.3" y="270.5" width="6" height="7" fill="#f2f5ee"/>
<rect x="213.3" y="270.5" width="6" height="3" fill="#6f8a72"/>
<rect x="213.3" y="270.5" width="6" height="7" fill="none" stroke="#7a9a7a" stroke-width="0.5"/>
<rect x="223.7" y="270.5" width="6" height="7" fill="#f2f5ee"/>
<rect x="223.7" y="270.5" width="6" height="3" fill="#6f8a72"/>
<rect x="223.7" y="270.5" width="6" height="7" fill="none" stroke="#7a9a7a" stroke-width="0.5"/>
<rect x="234.1" y="270.5" width="6" height="7" fill="#f2f5ee"/>
<rect x="234.1" y="270.5" width="6" height="3" fill="#6f8a72"/>
<rect x="234.1" y="270.5" width="6" height="7" fill="none" stroke="#7a9a7a" stroke-width="0.5"/>
<rect x="244.4" y="270.5" width="6" height="7" fill="#f2f5ee"/>
<rect x="244.4" y="270.5" width="6" height="3" fill="#6f8a72"/>
<rect x="244.4" y="270.5" width="6" height="7" fill="none" stroke="#7a9a7a" stroke-width="0.5"/>
<rect x="254.8" y="270.5" width="6" height="7" fill="#f2f5ee"/>
<rect x="254.8" y="270.5" width="6" height="3" fill="#6f8a72"/>
<rect x="254.8" y="270.5" width="6" height="7" fill="none" stroke="#7a9a7a" stroke-width="0.5"/>
<rect x="265.2" y="270.5" width="6" height="7" fill="#f2f5ee"/>
<rect x="265.2" y="270.5" width="6" height="3" fill="#6f8a72"/>
<rect x="265.2" y="270.5" width="6" height="7" fill="none" stroke="#7a9a7a" stroke-width="0.5"/>
<rect x="275.6" y="270.5" width="6" height="7" fill="#f2f5ee"/>
<rect x="275.6" y="270.5" width="6" height="3" fill="#6f8a72"/>
<rect x="275.6" y="270.5" width="6" height="7" fill="none" stroke="#7a9a7a" stroke-width="0.5"/>
<rect x="285.9" y="270.5" width="6" height="7" fill="#f2f5ee"/>
<rect x="285.9" y="270.5" width="6" height="3" fill="#6f8a72"/>
<rect x="285.9" y="270.5" width="6" height="7" fill="none" stroke="#7a9a7a" stroke-width="0.5"/>
<rect x="296.3" y="270.5" width="6" height="7" fill="#f2f5ee"/>
<rect x="296.3" y="270.5" width="6" height="3" fill="#6f8a72"/>
<rect x="296.3" y="270.5" width="6" height="7" fill="none" stroke="#7a9a7a" stroke-width="0.5"/>
<rect x="306.7" y="270.5" width="6" height="7" fill="#f2f5ee"/>
<rect x="306.7" y="270.5" width="6" height="3" fill="#6f8a72"/>
<rect x="306.7" y="270.5" width="6" height="7" fill="none" stroke="#7a9a7a" stroke-width="0.5"/>
<rect x="317.0" y="270.5" width="6" height="7" fill="#f2f5ee"/>
<rect x="317.0" y="270.5" width="6" height="3" fill="#6f8a72"/>
<rect x="317.0" y="270.5" width="6" height="7" fill="none" stroke="#7a9a7a" stroke-width="0.5"/>
<rect x="327.4" y="270.5" width="6" height="7" fill="#f2f5ee"/>
<rect x="327.4" y="270.5" width="6" height="3" fill="#6f8a72"/>
<rect x="327.4" y="270.5" width="6" height="7" fill="none" stroke="#7a9a7a" stroke-width="0.5"/>
<rect x="337.8" y="270.5" width="6" height="7" fill="#f2f5ee"/>
<rect x="337.8" y="270.5" width="6" height="3" fill="#6f8a72"/>
<rect x="337.8" y="270.5" width="6" height="7" fill="none" stroke="#7a9a7a" stroke-width="0.5"/>
<rect x="348.1" y="270.5" width="6" height="7" fill="#f2f5ee"/>
<rect x="348.1" y="270.5" width="6" height="3" fill="#6f8a72"/>
<rect x="348.1" y="270.5" width="6" height="7" fill="none" stroke="#7a9a7a" stroke-width="0.5"/>
<rect x="358.5" y="270.5" width="6" height="7" fill="#f2f5ee"/>
<rect x="358.5" y="270.5" width="6" height="3" fill="#6f8a72"/>
<rect x="358.5" y="270.5" width="6" height="7" fill="none" stroke="#7a9a7a" stroke-width="0.5"/>
<rect x="368.9" y="270.5" width="6" height="7" fill="#f2f5ee"/>
<rect x="368.9" y="270.5" width="6" height="3" fill="#6f8a72"/>
<rect x="368.9" y="270.5" width="6" height="7" fill="none" stroke="#7a9a7a" stroke-width="0.5"/>
<rect x="379.3" y="270.5" width="6" height="7" fill="#f2f5ee"/>
<rect x="379.3" y="270.5" width="6" height="3" fill="#6f8a72"/>
<rect x="379.3" y="270.5" width="6" height="7" fill="none" stroke="#7a9a7a" stroke-width="0.5"/>
<rect x="389.6" y="270.5" width="6" height="7" fill="#f2f5ee"/>
<rect x="389.6" y="270.5" width="6" height="3" fill="#6f8a72"/>
<rect x="389.6" y="270.5" width="6" height="7" fill="none" stroke="#7a9a7a" stroke-width="0.5"/>
<rect x="189.5" y="436.5" width="209" height="29.5" fill="#94c691"/>
<rect x="189.5" y="436.5" width="209" height="5" fill="#a5d1a1"/>
<rect x="191.7" y="443.6" width="6" height="6.4" fill="#7e6e4e"/>
<rect x="192.7" y="445.6" width="4" height="1.6" fill="#e6dcc2"/>
<rect x="191.7" y="451" width="6" height="1" fill="#7fb07c" opacity="0.8"/>
<rect x="202.1" y="443.6" width="6" height="6.4" fill="#7e6e4e"/>
<rect x="203.1" y="445.6" width="4" height="1.6" fill="#e6dcc2"/>
<rect x="202.1" y="451" width="6" height="1" fill="#7fb07c" opacity="0.8"/>
<rect x="212.5" y="443.6" width="6" height="6.4" fill="#7e6e4e"/>
<rect x="213.5" y="445.6" width="4" height="1.6" fill="#e6dcc2"/>
<rect x="212.5" y="451" width="6" height="1" fill="#7fb07c" opacity="0.8"/>
<rect x="222.9" y="443.6" width="6" height="6.4" fill="#7e6e4e"/>
<rect x="223.9" y="445.6" width="4" height="1.6" fill="#e6dcc2"/>
<rect x="222.9" y="451" width="6" height="1" fill="#7fb07c" opacity="0.8"/>
<rect x="233.3" y="443.6" width="6" height="6.4" fill="#7e6e4e"/>
<rect x="234.3" y="445.6" width="4" height="1.6" fill="#e6dcc2"/>
<rect x="233.3" y="451" width="6" height="1" fill="#7fb07c" opacity="0.8"/>
<rect x="243.7" y="443.6" width="6" height="6.4" fill="#7e6e4e"/>
<rect x="244.7" y="445.6" width="4" height="1.6" fill="#e6dcc2"/>
<rect x="243.7" y="451" width="6" height="1" fill="#7fb07c" opacity="0.8"/>
<rect x="254.1" y="443.6" width="6" height="6.4" fill="#7e6e4e"/>
<rect x="255.1" y="445.6" width="4" height="1.6" fill="#e6dcc2"/>
<rect x="254.1" y="451" width="6" height="1" fill="#7fb07c" opacity="0.8"/>
<rect x="264.5" y="443.6" width="6" height="6.4" fill="#7e6e4e"/>
<rect x="265.5" y="445.6" width="4" height="1.6" fill="#e6dcc2"/>
<rect x="264.5" y="451" width="6" height="1" fill="#7fb07c" opacity="0.8"/>
<rect x="274.9" y="443.6" width="6" height="6.4" fill="#7e6e4e"/>
<rect x="275.9" y="445.6" width="4" height="1.6" fill="#e6dcc2"/>
<rect x="274.9" y="451" width="6" height="1" fill="#7fb07c" opacity="0.8"/>
<rect x="285.3" y="443.6" width="6" height="6.4" fill="#7e6e4e"/>
<rect x="286.3" y="445.6" width="4" height="1.6" fill="#e6dcc2"/>
<rect x="285.3" y="451" width="6" height="1" fill="#7fb07c" opacity="0.8"/>
<rect x="295.7" y="443.6" width="6" height="6.4" fill="#7e6e4e"/>
<rect x="296.7" y="445.6" width="4" height="1.6" fill="#e6dcc2"/>
<rect x="295.7" y="451" width="6" height="1" fill="#7fb07c" opacity="0.8"/>
<rect x="306.1" y="443.6" width="6" height="6.4" fill="#7e6e4e"/>
<rect x="307.1" y="445.6" width="4" height="1.6" fill="#e6dcc2"/>
<rect x="306.1" y="451" width="6" height="1" fill="#7fb07c" opacity="0.8"/>
<rect x="316.5" y="443.6" width="6" height="6.4" fill="#7e6e4e"/>
<rect x="317.5" y="445.6" width="4" height="1.6" fill="#e6dcc2"/>
<rect x="316.5" y="451" width="6" height="1" fill="#7fb07c" opacity="0.8"/>
<rect x="326.9" y="443.6" width="6" height="6.4" fill="#7e6e4e"/>
<rect x="327.9" y="445.6" width="4" height="1.6" fill="#e6dcc2"/>
<rect x="326.9" y="451" width="6" height="1" fill="#7fb07c" opacity="0.8"/>
<rect x="337.3" y="443.6" width="6" height="6.4" fill="#7e6e4e"/>
<rect x="338.3" y="445.6" width="4" height="1.6" fill="#e6dcc2"/>
<rect x="337.3" y="451" width="6" height="1" fill="#7fb07c" opacity="0.8"/>
<rect x="347.7" y="443.6" width="6" height="6.4" fill="#7e6e4e"/>
<rect x="348.7" y="445.6" width="4" height="1.6" fill="#e6dcc2"/>
<rect x="347.7" y="451" width="6" height="1" fill="#7fb07c" opacity="0.8"/>
<rect x="358.1" y="443.6" width="6" height="6.4" fill="#7e6e4e"/>
<rect x="359.1" y="445.6" width="4" height="1.6" fill="#e6dcc2"/>
<rect x="358.1" y="451" width="6" height="1" fill="#7fb07c" opacity="0.8"/>
<rect x="368.5" y="443.6" width="6" height="6.4" fill="#7e6e4e"/>
<rect x="369.5" y="445.6" width="4" height="1.6" fill="#e6dcc2"/>
<rect x="368.5" y="451" width="6" height="1" fill="#7fb07c" opacity="0.8"/>
<rect x="378.9" y="443.6" width="6" height="6.4" fill="#7e6e4e"/>
<rect x="379.9" y="445.6" width="4" height="1.6" fill="#e6dcc2"/>
<rect x="378.9" y="451" width="6" height="1" fill="#7fb07c" opacity="0.8"/>
<rect x="389.3" y="443.6" width="6" height="6.4" fill="#7e6e4e"/>
<rect x="390.3" y="445.6" width="4" height="1.6" fill="#e6dcc2"/>
<rect x="389.3" y="451" width="6" height="1" fill="#7fb07c" opacity="0.8"/>
<rect x="471" y="277.2" width="39" height="55.5" fill="#91c78e"/>
<rect x="471" y="277.2" width="5" height="55.5" fill="#5f9a64"/>
<rect x="499" y="277.2" width="11" height="55.5" fill="#a3d3a0"/>
<rect x="471" y="277.2" width="39" height="55.5" fill="none" stroke="#6aa36a" stroke-width="0.7"/>
<rect x="485.3" y="278.8" width="8.6" height="3.2" fill="#3f5e47"/>
<rect x="485.3" y="282.0" width="8.6" height="2.6" fill="#e7f0e4"/>
<rect x="499" y="285.8" width="11" height="1.2" fill="#7fb67c"/>
<rect x="485.3" y="288.1" width="8.6" height="3.2" fill="#3f5e47"/>
<rect x="485.3" y="291.3" width="8.6" height="2.6" fill="#e7f0e4"/>
<rect x="499" y="295.1" width="11" height="1.2" fill="#7fb67c"/>
<rect x="485.3" y="297.3" width="8.6" height="3.2" fill="#3f5e47"/>
<rect x="485.3" y="300.5" width="8.6" height="2.6" fill="#e7f0e4"/>
<rect x="499" y="304.3" width="11" height="1.2" fill="#7fb67c"/>
<rect x="485.3" y="306.6" width="8.6" height="3.2" fill="#3f5e47"/>
<rect x="485.3" y="309.8" width="8.6" height="2.6" fill="#e7f0e4"/>
<rect x="499" y="313.6" width="11" height="1.2" fill="#7fb67c"/>
<rect x="485.3" y="315.8" width="8.6" height="3.2" fill="#3f5e47"/>
<rect x="485.3" y="319.0" width="8.6" height="2.6" fill="#e7f0e4"/>
<rect x="499" y="322.8" width="11" height="1.2" fill="#7fb67c"/>
<rect x="485.3" y="325.1" width="8.6" height="3.2" fill="#3f5e47"/>
<rect x="485.3" y="328.3" width="8.6" height="2.6" fill="#e7f0e4"/>
<rect x="499" y="332.1" width="11" height="1.2" fill="#7fb67c"/>
<rect x="471" y="335.7" width="39" height="55.69999999999999" fill="#91c78e"/>
<rect x="471" y="335.7" width="5" height="55.69999999999999" fill="#5f9a64"/>
<rect x="499" y="335.7" width="11" height="55.69999999999999" fill="#a3d3a0"/>
<rect x="471" y="335.7" width="39" height="55.69999999999999" fill="none" stroke="#6aa36a" stroke-width="0.7"/>
<rect x="485.3" y="337.3" width="8.6" height="3.2" fill="#3f5e47"/>
<rect x="485.3" y="340.5" width="8.6" height="2.6" fill="#e7f0e4"/>
<rect x="499" y="344.4" width="11" height="1.2" fill="#7fb67c"/>
<rect x="485.3" y="346.6" width="8.6" height="3.2" fill="#3f5e47"/>
<rect x="485.3" y="349.8" width="8.6" height="2.6" fill="#e7f0e4"/>
<rect x="499" y="353.7" width="11" height="1.2" fill="#7fb67c"/>
<rect x="485.3" y="355.9" width="8.6" height="3.2" fill="#3f5e47"/>
<rect x="485.3" y="359.1" width="8.6" height="2.6" fill="#e7f0e4"/>
<rect x="499" y="362.9" width="11" height="1.2" fill="#7fb67c"/>
<rect x="485.3" y="365.2" width="8.6" height="3.2" fill="#3f5e47"/>
<rect x="485.3" y="368.4" width="8.6" height="2.6" fill="#e7f0e4"/>
<rect x="499" y="372.2" width="11" height="1.2" fill="#7fb67c"/>
<rect x="485.3" y="374.5" width="8.6" height="3.2" fill="#3f5e47"/>
<rect x="485.3" y="377.7" width="8.6" height="2.6" fill="#e7f0e4"/>
<rect x="499" y="381.5" width="11" height="1.2" fill="#7fb67c"/>
<rect x="485.3" y="383.8" width="8.6" height="3.2" fill="#3f5e47"/>
<rect x="485.3" y="387.0" width="8.6" height="2.6" fill="#e7f0e4"/>
<rect x="499" y="390.8" width="11" height="1.2" fill="#7fb67c"/>
<rect x="471" y="395.7" width="39" height="55.60000000000002" fill="#91c78e"/>
<rect x="471" y="395.7" width="5" height="55.60000000000002" fill="#5f9a64"/>
<rect x="499" y="395.7" width="11" height="55.60000000000002" fill="#a3d3a0"/>
<rect x="471" y="395.7" width="39" height="55.60000000000002" fill="none" stroke="#6aa36a" stroke-width="0.7"/>
<rect x="485.3" y="397.3" width="8.6" height="3.2" fill="#3f5e47"/>
<rect x="485.3" y="400.5" width="8.6" height="2.6" fill="#e7f0e4"/>
<rect x="499" y="404.4" width="11" height="1.2" fill="#7fb67c"/>
<rect x="485.3" y="406.6" width="8.6" height="3.2" fill="#3f5e47"/>
<rect x="485.3" y="409.8" width="8.6" height="2.6" fill="#e7f0e4"/>
<rect x="499" y="413.6" width="11" height="1.2" fill="#7fb67c"/>
<rect x="485.3" y="415.9" width="8.6" height="3.2" fill="#3f5e47"/>
<rect x="485.3" y="419.1" width="8.6" height="2.6" fill="#e7f0e4"/>
<rect x="499" y="422.9" width="11" height="1.2" fill="#7fb67c"/>
<rect x="485.3" y="425.1" width="8.6" height="3.2" fill="#3f5e47"/>
<rect x="485.3" y="428.3" width="8.6" height="2.6" fill="#e7f0e4"/>
<rect x="499" y="432.2" width="11" height="1.2" fill="#7fb67c"/>
<rect x="485.3" y="434.4" width="8.6" height="3.2" fill="#3f5e47"/>
<rect x="485.3" y="437.6" width="8.6" height="2.6" fill="#e7f0e4"/>
<rect x="499" y="441.4" width="11" height="1.2" fill="#7fb67c"/>
<rect x="485.3" y="443.7" width="8.6" height="3.2" fill="#3f5e47"/>
<rect x="485.3" y="446.9" width="8.6" height="2.6" fill="#e7f0e4"/>
<rect x="499" y="450.7" width="11" height="1.2" fill="#7fb67c"/>
<text x="299.7" y="325.8" font-size="26" font-family='"Liberation Sans", sans-serif' fill="#ffffff" fill-opacity="0.35" stroke="#8a8a8a" stroke-opacity="0.75" stroke-width="0.9" textLength="195.6" lengthAdjust="spacingAndGlyphs">Store No: 801899</text>
<line x1="193.8" y1="256" x2="193.8" y2="272" stroke="#b23a40" stroke-width="1.25" />
<path d="M205,256 V271" fill="none" stroke="#3a3a3a" stroke-width="1.1" stroke-dasharray="2,1.8"/>
<path d="M216,256 V271" fill="none" stroke="#3a3a3a" stroke-width="1.1" stroke-dasharray="2,1.8"/>
<path d="M236,256 V271" fill="none" stroke="#3a3a3a" stroke-width="1.1" stroke-dasharray="2,1.8"/>
<path d="M250,256 V271" fill="none" stroke="#3a3a3a" stroke-width="1.1" stroke-dasharray="2,1.8"/>
<path d="M284,262 V271" fill="none" stroke="#3a3a3a" stroke-width="1.1" stroke-dasharray="2,1.8"/>
<path d="M298,256 V271" fill="none" stroke="#3a3a3a" stroke-width="1.1" stroke-dasharray="2,1.8"/>
<text transform="translate(199.20000000000002,245) rotate(90)" font-size="9" font-weight="bold" font-family='"Liberation Serif", serif' fill="#2a3448" textLength="17" lengthAdjust="spacingAndGlyphs">STEP</text>
<text transform="translate(215.8,247) rotate(90)" font-size="9" font-weight="bold" font-family='"Liberation Serif", serif' fill="#2a3448" textLength="13" lengthAdjust="spacingAndGlyphs">DIR</text>
<text transform="translate(231.0,245) rotate(90)" font-size="9" font-weight="bold" font-family='"Liberation Serif", serif' fill="#2a3448" textLength="17" lengthAdjust="spacingAndGlyphs">STEP</text>
<text transform="translate(247.60000000000002,247) rotate(90)" font-size="9" font-weight="bold" font-family='"Liberation Serif", serif' fill="#2a3448" textLength="13" lengthAdjust="spacingAndGlyphs">DIR</text>
<text transform="translate(272.6,245) rotate(90)" font-size="9" font-weight="bold" font-family='"Liberation Serif", serif' fill="#2a3448" textLength="17" lengthAdjust="spacingAndGlyphs">STEP</text>
<text transform="translate(287.8,247) rotate(90)" font-size="9" font-weight="bold" font-family='"Liberation Serif", serif' fill="#2a3448" textLength="13" lengthAdjust="spacingAndGlyphs">DIR</text>
<polyline points="205.1,447 205.1,477 198.4,491.3" fill="none" stroke="#222" stroke-width="1.1" />
<line x1="205.1" y1="491.3" x2="205.1" y2="518.4" stroke="#222" stroke-width="1.1" />
<polyline points="225.9,447 225.9,477 219.2,491.3" fill="none" stroke="#222" stroke-width="1.1" />
<line x1="225.9" y1="491.3" x2="225.9" y2="518.4" stroke="#222" stroke-width="1.1" />
<polyline points="236.3,447 236.3,477 229.6,491.3" fill="none" stroke="#222" stroke-width="1.1" />
<line x1="236.3" y1="491.3" x2="236.3" y2="518.4" stroke="#222" stroke-width="1.1" />
<polyline points="246.7,447 246.7,477 240.0,491.3" fill="none" stroke="#222" stroke-width="1.1" />
<line x1="246.7" y1="491.3" x2="246.7" y2="518.4" stroke="#222" stroke-width="1.1" />
<polyline points="257.1,447 257.1,477 250.4,491.3" fill="none" stroke="#222" stroke-width="1.1" />
<line x1="257.1" y1="491.3" x2="257.1" y2="518.4" stroke="#222" stroke-width="1.1" />
<polyline points="288.3,447 288.3,477 281.6,491.3" fill="none" stroke="#222" stroke-width="1.1" />
<line x1="288.3" y1="491.3" x2="288.3" y2="518.4" stroke="#222" stroke-width="1.1" />
<polyline points="309.1,447 309.1,477 302.4,491.3" fill="none" stroke="#222" stroke-width="1.1" />
<line x1="309.1" y1="491.3" x2="309.1" y2="518.4" stroke="#222" stroke-width="1.1" />
<polyline points="319.5,447 319.5,477 312.8,491.3" fill="none" stroke="#222" stroke-width="1.1" />
<line x1="319.5" y1="491.3" x2="319.5" y2="518.4" stroke="#222" stroke-width="1.1" />
<polyline points="350.7,447 350.7,477 344.0,491.3" fill="none" stroke="#222" stroke-width="1.1" />
<line x1="350.7" y1="491.3" x2="350.7" y2="518.4" stroke="#222" stroke-width="1.1" />
<polyline points="361.1,447 361.1,477 354.4,491.3" fill="none" stroke="#222" stroke-width="1.1" />
<line x1="361.1" y1="491.3" x2="361.1" y2="518.4" stroke="#222" stroke-width="1.1" />
<polyline points="371.5,447 371.5,477 364.8,491.3" fill="none" stroke="#222" stroke-width="1.1" />
<line x1="371.5" y1="491.3" x2="371.5" y2="518.4" stroke="#222" stroke-width="1.1" />
<polyline points="381.9,447 381.9,477 375.2,491.3" fill="none" stroke="#222" stroke-width="1.1" />
<line x1="381.9" y1="491.3" x2="381.9" y2="518.4" stroke="#222" stroke-width="1.1" />
<line x1="194.7" y1="447" x2="194.7" y2="565" stroke="#181818" stroke-width="1.3" />
<line x1="184" y1="565" x2="206.5" y2="565" stroke="#181818" stroke-width="1.3" />
<line x1="188" y1="568.6" x2="202" y2="568.6" stroke="#181818" stroke-width="1.2" />
<line x1="191" y1="572.4" x2="199" y2="572.4" stroke="#181818" stroke-width="1.2" />
<line x1="509" y1="299.2" x2="644" y2="299.2" stroke="#151515" stroke-width="1.4" />
<polyline points="493,306.5 560,308.5 644,311" fill="none" stroke="#b23a40" stroke-width="1.3"/>
<path d="M509,317.7 H571 Q582.7,317.7 582.7,329 V368 Q582.7,379.3 594,379.3 H638" fill="none" stroke="#9a9a9a" stroke-width="0.9"/>
<path d="M509,327 H584 Q595,327 597,336 Q599,342.8 608,342.8 H638" fill="none" stroke="#9a9a9a" stroke-width="0.9"/>
<path d="M509,378.4 H568 Q578.4,378.4 578.4,388 V414" fill="none" stroke="#a8a8a8" stroke-width="0.8"/>
<path d="M578.4,430 V446 Q578.4,454 588,454 H633" fill="none" stroke="#a8a8a8" stroke-width="0.8"/>
<path d="M509,388.4 H550 Q560,388.4 560,400 V455 Q560,464.8 572,464.8 H633" fill="none" stroke="#a8a8a8" stroke-width="0.8"/>
<line x1="509" y1="419.3" x2="542" y2="419.3" stroke="#151515" stroke-width="1.4" />
<circle cx="577.6" cy="422" r="8" fill="none" stroke="#666" stroke-width="0.9"/>
<line x1="577.6" y1="416" x2="577.6" y2="428" stroke="#666" stroke-width="0.8" />
<polyline points="576.1,418 577.6,416 579.1,418" fill="none" stroke="#777" stroke-width="0.7"/>
<text x="561.5" y="424" font-size="5" font-weight="normal" fill="#666" text-anchor="start" font-family='"Liberation Serif", serif' >DC</text>
<circle cx="745.7" cy="344.7" r="9" fill="none" stroke="#777" stroke-width="0.9"/>
<path d="M739,345 Q742.5,338 745.7,345 T752.5,345" fill="none" stroke="#777" stroke-width="0.8"/>
<line x1="718" y1="344" x2="736.7" y2="344" stroke="#888" stroke-width="0.9" />
<line x1="754.7" y1="344" x2="777" y2="344" stroke="#888" stroke-width="0.9" />
<line x1="718" y1="373.5" x2="777" y2="373.5" stroke="#999" stroke-width="0.9" />
<text x="741" y="359" font-size="4" font-weight="normal" fill="#999" text-anchor="start" font-family='"Liberation Serif", serif' >AC</text>
<rect x="640" y="237.5" width="70" height="73" rx="3" fill="#ebebe5"/>
<path d="M643,237.5 H649 V310.5 H643 Q640,310.5 640,307 V241 Q640,237.5 643,237.5 Z" fill="#dfdfd8"/>
<rect x="649" y="238.5" width="60" height="3" fill="#f4f4ef"/>
<rect x="675" y="246" width="27.5" height="31" rx="2" fill="#efefea" stroke="#d2d2cc" stroke-width="0.6"/>
<rect x="677" y="248.5" width="23.6" height="11.5" rx="1" fill="#4a4d54"/>
<rect x="679" y="250.5" width="19.6" height="7.5" fill="#686c74"/>
<rect x="655" y="251" width="11" height="1.5" fill="#9a9a96"/>
<rect x="654.5" y="256.5" width="17" height="5.5" fill="#d4dade" stroke="#a8b0b4" stroke-width="0.4"/>
<rect x="654.5" y="263" width="15" height="1" fill="#8a8a86"/>
<rect x="678.5" y="262.3" width="5.2" height="2.6" fill="#7d7d7a"/>
<rect x="678.5" y="266.5" width="5.2" height="2.6" fill="#7d7d7a"/>
<rect x="685.8" y="262.3" width="5.2" height="2.6" fill="#7d7d7a"/>
<rect x="685.8" y="266.5" width="5.2" height="2.6" fill="#7d7d7a"/>
<rect x="693.1" y="262.3" width="5.2" height="2.6" fill="#7d7d7a"/>
<rect x="693.1" y="266.5" width="5.2" height="2.6" fill="#7d7d7a"/>
<rect x="680" y="270.7" width="7.8" height="2.8" fill="#3d9a5c"/>
<rect x="689.2" y="270.7" width="7.1" height="2.8" fill="#c2424e"/>
<polygon points="658.3,293.5 660.7,289 663.1,293.5" fill="#f2d8d0" stroke="#c86050" stroke-width="0.5"/>
<polygon points="658.3,299.5 660.7,295 663.1,299.5" fill="#f2d8d0" stroke="#c86050" stroke-width="0.5"/>
<rect x="665" y="290" width="10" height="0.9" fill="#8a8a86"/>
<rect x="665" y="292" width="9" height="0.9" fill="#a0a09c"/>
<rect x="665" y="296.0" width="30" height="0.9" fill="#9a9a96"/>
<rect x="665" y="297.8" width="28" height="0.9" fill="#9a9a96"/>
<rect x="665" y="299.6" width="26" height="0.9" fill="#9a9a96"/>
<rect x="665" y="301.4" width="24" height="0.9" fill="#9a9a96"/>
<path d="M709,262 H725 Q735,262 735,250 V230 Q735,214 748,214 H768 Q776,214 776,228 V236" fill="none" stroke="#f0f0f0" stroke-width="0.9"/>
<defs><linearGradient id="spg" x1="0" x2="1" y1="0" y2="0"><stop offset="0" stop-color="#a9adb1"/><stop offset="0.35" stop-color="#f2f3f4"/><stop offset="0.65" stop-color="#d6d8da"/><stop offset="1" stop-color="#9a9ea2"/></linearGradient></defs>
<rect x="760.8" y="245.4" width="22.2" height="59.6" rx="2" fill="url(#spg)"/>
<rect x="760.8" y="245.4" width="22.2" height="4" fill="#b5b8bb"/>
<rect x="770" y="236.6" width="2" height="9" fill="#aaa"/>
<rect x="774" y="236.6" width="2" height="9" fill="#aaa"/>
<rect x="778" y="237.6" width="2" height="8" fill="#bbb"/>
<rect x="766" y="305" width="12" height="3" fill="#8a8c90"/>
<rect x="769.5" y="308" width="5" height="5" fill="#9a9a9a"/>
<rect x="636" y="334" width="81" height="51" fill="#dcdcd7"/>
<rect x="654" y="335" width="45" height="49" fill="#efefeb"/>
<rect x="636" y="334" width="81" height="51" fill="none" stroke="#c4c4be" stroke-width="0.8"/>
<rect x="637.8" y="338.2" width="14.4" height="11.2" fill="#99958a"/>
<circle cx="644.5" cy="343.8" r="4" fill="#c9c5b8" stroke="#6f6b62" stroke-width="0.7"/>
<line x1="642" y1="343.8" x2="647" y2="343.8" stroke="#6f6b62" stroke-width="0.8"/>
<rect x="637.8" y="370" width="14.4" height="11.2" fill="#99958a"/>
<circle cx="644.5" cy="375.6" r="4" fill="#c9c5b8" stroke="#6f6b62" stroke-width="0.7"/>
<line x1="642" y1="375.6" x2="647" y2="375.6" stroke="#6f6b62" stroke-width="0.8"/>
<path d="M638,365.7 V357 Q638,353 645,353 Q652,353 652,357 V365.7 Z" fill="#4a4944"/>
<rect x="700" y="338.2" width="15.7" height="12" fill="#cfcbbf"/>
<circle cx="707.8" cy="344.2" r="4.2" fill="#ece9e0" stroke="#7a766c" stroke-width="0.7"/>
<line x1="705" y1="342.2" x2="710" y2="346.2" stroke="#6a665c" stroke-width="0.8"/>
<rect x="700" y="370" width="15.7" height="12" fill="#cfcbbf"/>
<circle cx="707.8" cy="376" r="4.2" fill="#ece9e0" stroke="#7a766c" stroke-width="0.7"/>
<line x1="705" y1="374" x2="710" y2="378" stroke="#6a665c" stroke-width="0.8"/>
<rect x="704" y="356" width="7" height="9" rx="3" fill="#5a5852"/>
<rect x="681.5" y="337.5" width="3" height="21" fill="#d0607a" opacity="0.8"/>
<rect x="681.5" y="360" width="3" height="6" fill="#777" opacity="0.6"/>
<rect x="668" y="343" width="1.1" height="20" fill="#8d8d88" opacity="0.7"/>
<rect x="671" y="343" width="1.1" height="18" fill="#8d8d88" opacity="0.7"/>
<rect x="674" y="343" width="1.1" height="16" fill="#8d8d88" opacity="0.7"/>
<rect x="677" y="343" width="1.1" height="14" fill="#8d8d88" opacity="0.7"/>
<rect x="680" y="343" width="1.1" height="12" fill="#8d8d88" opacity="0.7"/>
<rect x="688" y="345" width="1" height="30" fill="#999" opacity="0.7"/>
<rect x="688" y="368" width="6" height="8" fill="#888" opacity="0.5"/>
<circle cx="664.7" cy="373" r="3" fill="#a2a29e"/>
<defs><linearGradient id="cyl" x1="0" y1="0" x2="0" y2="1"><stop offset="0" stop-color="#e6dfc4"/><stop offset="0.45" stop-color="#f2ecd8"/><stop offset="1" stop-color="#b9ad86"/></linearGradient></defs>
<polygon points="675.5,420 699.8,420 699.8,436 675.5,438" fill="#b8ab7c"/>
<ellipse cx="681.4" cy="427.5" rx="1.8" ry="2.4" fill="#f3f1ea"/><ellipse cx="692" cy="427" rx="1.8" ry="2.4" fill="#f3f1ea"/>
<rect x="639" y="444" width="14" height="25" rx="6" fill="#cfc39c"/>
<rect x="647" y="440" width="24" height="31" rx="2" fill="url(#cyl)"/>
<rect x="652" y="440" width="1.2" height="31" fill="#b5a97e" opacity="0.7"/>
<rect x="656" y="440" width="1.2" height="31" fill="#b5a97e" opacity="0.7"/>
<rect x="660" y="440" width="1.2" height="31" fill="#b5a97e" opacity="0.7"/>
<rect x="664" y="440" width="1.2" height="31" fill="#b5a97e" opacity="0.7"/>
<rect x="664" y="439" width="5" height="33" fill="#f4f1e6"/>
<polygon points="667.7,438.8 707.6,433.2 711,480.9 682,489.8 668.8,477.6" fill="#cdc29a"/>
<polygon points="670,441 705,436 708,478 683,486 671,475" fill="#ddd4b2"/>
<circle cx="672" cy="442" r="1.8" fill="#8e8462"/>
<circle cx="704" cy="437.5" r="1.8" fill="#8e8462"/>
<circle cx="707" cy="477" r="1.8" fill="#8e8462"/>
<circle cx="682" cy="485" r="1.8" fill="#8e8462"/>
<circle cx="700" cy="462" r="23" fill="#eeece3"/>
<circle cx="702" cy="459" r="15" fill="#f7f6f0"/>
<ellipse cx="722.5" cy="462" rx="7" ry="8" fill="#eeece2"/>
<ellipse cx="724" cy="461" rx="4" ry="5" fill="#f8f7f2"/>
<polygon points="699,479 713,478 716,492 703,494" fill="#eeece4"/>
<defs><pattern id="perf" width="2.6" height="2.6" patternUnits="userSpaceOnUse" patternTransform="rotate(20)"><rect width="2.6" height="2.6" fill="#e8e8e6"/><rect x="0.4" y="0.4" width="1.4" height="1.4" fill="#9c9c9a"/></pattern></defs>
<polygon points="12,247.5 40.9,241.5 96.9,255.9 95.3,271.7 60.5,286 13.6,258.9" fill="#d2d2cf"/>
<polygon points="12,247.5 40.9,241.5 96.9,255.9 95,258 60.5,268" fill="url(#perf)"/>
<polygon points="12,247.5 60.5,268 60.5,286 13.6,258.9" fill="url(#perf)" opacity="0.8"/>
<polygon points="60.5,268 95,258 95.3,271.7 60.5,286" fill="#dcdcd8"/>
<polygon points="62,275 86,267.5 86,277 62,285" fill="#3c3c3c"/>
<polygon points="86,267.5 95,265 95,273 86,277" fill="#c8c8c0"/>
<circle cx="66.0" cy="279.0" r="1.9" fill="#161616"/>
<circle cx="71.5" cy="277.3" r="1.9" fill="#161616"/>
<circle cx="77.0" cy="275.6" r="1.9" fill="#161616"/>
<circle cx="82.5" cy="273.9" r="1.9" fill="#161616"/>
<polygon points="32,252.5 42,250 49,252.5 39,255" fill="#e6e08a"/>
<polygon points="82,257 89,255 93,256.5 86,258.5" fill="#e6e08a"/>
<line x1="60.5" y1="268" x2="95" y2="258" stroke="#f0f0ee" stroke-width="1"/>
<defs><linearGradient id="scr" x1="0" y1="0" x2="1" y2="0.6"><stop offset="0" stop-color="#3e3e3c"/><stop offset="0.55" stop-color="#8c8c88"/><stop offset="1" stop-color="#5a5a57"/></linearGradient><linearGradient id="scr2" x1="0" y1="0" x2="0" y2="1"><stop offset="0" stop-color="#000" stop-opacity="0.15"/><stop offset="0.5" stop-color="#000" stop-opacity="0"/><stop offset="1" stop-color="#000" stop-opacity="0.35"/></linearGradient></defs>
<rect x="22.7" y="443.9" width="63.6" height="39.3" fill="#333331"/>
<rect x="25.7" y="446.3" width="57.7" height="32.7" fill="url(#scr)"/>
<rect x="25.7" y="446.3" width="57.7" height="32.7" fill="url(#scr2)"/>
<rect x="48" y="480" width="12" height="1.5" fill="#999"/>
<rect x="47.7" y="483.2" width="13.7" height="9" fill="#2e2e2c"/>
<polygon points="42,492 66,492 68.5,498 39.4,498" fill="#4a4a48"/>
<polygon points="24,498.6 86,498.6 88.7,504 21.5,504" fill="#3e3e3c"/>
<rect x="24.0" y="500" width="2.6" height="1" fill="#9a9a98" opacity="0.6"/>
<rect x="23.0" y="502" width="2.6" height="1" fill="#9a9a98" opacity="0.5"/>
<rect x="27.9" y="500" width="2.6" height="1" fill="#9a9a98" opacity="0.6"/>
<rect x="26.9" y="502" width="2.6" height="1" fill="#9a9a98" opacity="0.5"/>
<rect x="31.8" y="500" width="2.6" height="1" fill="#9a9a98" opacity="0.6"/>
<rect x="30.8" y="502" width="2.6" height="1" fill="#9a9a98" opacity="0.5"/>
<rect x="35.7" y="500" width="2.6" height="1" fill="#9a9a98" opacity="0.6"/>
<rect x="34.7" y="502" width="2.6" height="1" fill="#9a9a98" opacity="0.5"/>
<rect x="39.6" y="500" width="2.6" height="1" fill="#9a9a98" opacity="0.6"/>
<rect x="38.6" y="502" width="2.6" height="1" fill="#9a9a98" opacity="0.5"/>
<rect x="43.5" y="500" width="2.6" height="1" fill="#9a9a98" opacity="0.6"/>
<rect x="42.5" y="502" width="2.6" height="1" fill="#9a9a98" opacity="0.5"/>
<rect x="47.4" y="500" width="2.6" height="1" fill="#9a9a98" opacity="0.6"/>
<rect x="46.4" y="502" width="2.6" height="1" fill="#9a9a98" opacity="0.5"/>
<rect x="51.3" y="500" width="2.6" height="1" fill="#9a9a98" opacity="0.6"/>
<rect x="50.3" y="502" width="2.6" height="1" fill="#9a9a98" opacity="0.5"/>
<rect x="55.2" y="500" width="2.6" height="1" fill="#9a9a98" opacity="0.6"/>
<rect x="54.2" y="502" width="2.6" height="1" fill="#9a9a98" opacity="0.5"/>
<rect x="59.1" y="500" width="2.6" height="1" fill="#9a9a98" opacity="0.6"/>
<rect x="58.1" y="502" width="2.6" height="1" fill="#9a9a98" opacity="0.5"/>
<rect x="63.0" y="500" width="2.6" height="1" fill="#9a9a98" opacity="0.6"/>
<rect x="62.0" y="502" width="2.6" height="1" fill="#9a9a98" opacity="0.5"/>
<rect x="66.9" y="500" width="2.6" height="1" fill="#9a9a98" opacity="0.6"/>
<rect x="65.9" y="502" width="2.6" height="1" fill="#9a9a98" opacity="0.5"/>
<rect x="70.8" y="500" width="2.6" height="1" fill="#9a9a98" opacity="0.6"/>
<rect x="69.8" y="502" width="2.6" height="1" fill="#9a9a98" opacity="0.5"/>
<rect x="74.7" y="500" width="2.6" height="1" fill="#9a9a98" opacity="0.6"/>
<rect x="73.7" y="502" width="2.6" height="1" fill="#9a9a98" opacity="0.5"/>
<rect x="78.6" y="500" width="2.6" height="1" fill="#9a9a98" opacity="0.6"/>
<rect x="77.6" y="502" width="2.6" height="1" fill="#9a9a98" opacity="0.5"/>
<rect x="82.5" y="500" width="2.6" height="1" fill="#9a9a98" opacity="0.6"/>
<rect x="81.5" y="502" width="2.6" height="1" fill="#9a9a98" opacity="0.5"/>
<ellipse cx="94.7" cy="500.6" rx="4" ry="2.4" fill="#262626"/>
<ellipse cx="93.5" cy="500" rx="1.5" ry="0.8" fill="#777"/>
<polygon points="86.7,572 88,566.8 113,564.3 125.7,575.7 120.7,601 103,603.4 86.7,588" fill="#1d2124"/>
<polygon points="92,570 113,567 123,577 100,581" fill="#30363a"/>
<polygon points="98,584 118,580 120,588 100,592" fill="#2a3034"/>
<polygon points="96,593 116,589 118,596 99,600" fill="#d8d8d8"/>
<polygon points="101,594.5 115,591.5 116,593.5 102,596.5" fill="#555"/>
<rect x="110" y="570" width="2" height="30" fill="#4a5256" opacity="0.7"/>
<ellipse cx="88" cy="574" rx="4.5" ry="11" fill="#2a2d30"/>
<ellipse cx="77" cy="573.5" rx="13.5" ry="15.5" fill="#c9352c" transform="rotate(-12 77 573.5)"/>
<ellipse cx="85.5" cy="575" rx="4" ry="13.5" fill="#9e2a22" transform="rotate(-12 85.5 575)"/>
<ellipse cx="74.5" cy="571.5" rx="8" ry="9.5" fill="none" stroke="#e6857a" stroke-width="0.7" transform="rotate(-12 74.5 571.5)"/>
<ellipse cx="72" cy="566" rx="3" ry="2" fill="#e0675c" opacity="0.7"/>
<defs><linearGradient id="metal" x1="0" y1="0" x2="0" y2="1"><stop offset="0" stop-color="#9a9a98"/><stop offset="0.3" stop-color="#e2e2e0"/><stop offset="0.6" stop-color="#a8a8a6"/><stop offset="1" stop-color="#5e5e5c"/></linearGradient></defs>
<g transform="translate(447.6,566) rotate(-20.8)">
<rect x="25" y="-6" width="20" height="12" fill="url(#metal)"/>
<rect x="45" y="-6.5" width="6" height="13" fill="#c9c98a"/>
<rect x="46.5" y="-6.5" width="1.5" height="13" fill="#a0a040"/>
<rect x="51" y="-5" width="8" height="10" rx="2" fill="url(#metal)"/>
<rect x="0" y="-9.5" width="25" height="19" rx="1" fill="url(#metal)"/>
<rect x="12" y="-10" width="2.6" height="20" fill="#4a4a48"/>
<rect x="14.6" y="-10" width="1.6" height="20" fill="#dcdcda"/>
<rect x="19" y="-10" width="2.6" height="20" fill="#4a4a48"/>
<rect x="21.6" y="-10" width="1.6" height="20" fill="#dcdcda"/>
<ellipse cx="0" cy="0" rx="5" ry="8" fill="#3f78c6"/>
<ellipse cx="-1" cy="-1.5" rx="3" ry="4.5" fill="#5a92dc"/>
</g>
<g transform="translate(471.6,590.5) rotate(-22.2)">
<rect x="25" y="-6" width="16" height="12" fill="url(#metal)"/>
<rect x="41" y="-6.5" width="5" height="13" fill="#c9c98a"/>
<rect x="42.5" y="-6.5" width="1.5" height="13" fill="#a0a040"/>
<rect x="0" y="-9.5" width="25" height="19" rx="1" fill="url(#metal)"/>
<rect x="12" y="-10" width="2.6" height="20" fill="#4a4a48"/>
<rect x="14.6" y="-10" width="1.6" height="20" fill="#dcdcda"/>
<rect x="19" y="-10" width="2.6" height="20" fill="#4a4a48"/>
<rect x="21.6" y="-10" width="1.6" height="20" fill="#dcdcda"/>
<ellipse cx="0" cy="0" rx="5" ry="8" fill="#3f78c6"/>
<ellipse cx="-1" cy="-1.5" rx="3" ry="4.5" fill="#5a92dc"/>
</g>
<path d="M514,573 Q519,571 521,569 Q523.5,567 524.5,565.5" fill="none" stroke="#151515" stroke-width="3.2" stroke-linecap="round"/>
<rect x="536" y="565.8" width="21.100000000000023" height="31.700000000000045" rx="1.2" fill="#8e8c89"/>
<rect x="536" y="565.8" width="4.6" height="31.700000000000045" fill="#7a7875"/>
<rect x="540.6" y="565.8" width="16.5" height="8.9" fill="#7f7d7a"/>
<rect x="542.3" y="577.8" width="12.7" height="1.6" fill="#d8d6d2" opacity="0.8"/>
<rect x="542.3" y="582.0" width="11.6" height="1.6" fill="#d8d6d2" opacity="0.8"/>
<rect x="542.3" y="586.1" width="10.6" height="1.6" fill="#d8d6d2" opacity="0.8"/>
<rect x="542.3" y="590.2" width="9.5" height="1.6" fill="#d8d6d2" opacity="0.8"/>
<circle cx="547.2" cy="564" r="3.2" fill="#555350"/>
<circle cx="542.3" cy="572.1" r="1" fill="#ddd"/>
<rect x="559.1" y="561" width="20.600000000000023" height="29.899999999999977" rx="1.2" fill="#8e8c89"/>
<rect x="559.1" y="561" width="4.5" height="29.899999999999977" fill="#7a7875"/>
<rect x="563.6" y="561" width="16.1" height="8.4" fill="#7f7d7a"/>
<rect x="565.3" y="572.4" width="12.4" height="1.6" fill="#d8d6d2" opacity="0.8"/>
<rect x="565.3" y="576.2" width="11.3" height="1.6" fill="#d8d6d2" opacity="0.8"/>
<rect x="565.3" y="580.1" width="10.3" height="1.6" fill="#d8d6d2" opacity="0.8"/>
<rect x="565.3" y="584.0" width="9.3" height="1.6" fill="#d8d6d2" opacity="0.8"/>
<rect x="569" y="552.5" width="7.3" height="9.5" fill="#7e7c79"/>
<rect x="560.8" y="551.5" width="6" height="13.5" fill="#e9e9e6"/>
<circle cx="563.8" cy="548.5" r="4.6" fill="none" stroke="#4a4a48" stroke-width="1.6"/>
<circle cx="563.8" cy="548.5" r="2.2" fill="#eeeeea"/>
<rect x="582.3" y="567" width="20.5" height="33.200000000000045" rx="1.2" fill="#8e8c89"/>
<rect x="582.3" y="567" width="4.5" height="33.200000000000045" fill="#7a7875"/>
<rect x="586.8" y="567" width="16.0" height="9.3" fill="#7f7d7a"/>
<rect x="588.4" y="579.6" width="12.3" height="1.6" fill="#d8d6d2" opacity="0.8"/>
<rect x="588.4" y="583.9" width="11.3" height="1.6" fill="#d8d6d2" opacity="0.8"/>
<rect x="588.4" y="588.2" width="10.2" height="1.6" fill="#d8d6d2" opacity="0.8"/>
<rect x="588.4" y="592.6" width="9.2" height="1.6" fill="#d8d6d2" opacity="0.8"/>
<circle cx="592.2" cy="563.8" r="3.2" fill="#555350"/>
<circle cx="588.4" cy="573.6" r="1" fill="#ddd"/>
<rect x="606.1" y="562.4" width="19.899999999999977" height="30.5" rx="1.2" fill="#8e8c89"/>
<rect x="606.1" y="562.4" width="4.4" height="30.5" fill="#7a7875"/>
<rect x="610.5" y="562.4" width="15.5" height="8.5" fill="#7f7d7a"/>
<rect x="612.1" y="574.0" width="11.9" height="1.6" fill="#d8d6d2" opacity="0.8"/>
<rect x="612.1" y="578.0" width="10.9" height="1.6" fill="#d8d6d2" opacity="0.8"/>
<rect x="612.1" y="581.9" width="9.9" height="1.6" fill="#d8d6d2" opacity="0.8"/>
<rect x="612.1" y="585.9" width="9.0" height="1.6" fill="#d8d6d2" opacity="0.8"/>
<rect x="616" y="553.8" width="6.7" height="9.600000000000023" fill="#7e7c79"/>
<rect x="608" y="543.6" width="6" height="22.799999999999955" fill="#e9e9e6"/>
<circle cx="611" cy="540.6" r="4.6" fill="none" stroke="#4a4a48" stroke-width="1.6"/>
<circle cx="611" cy="540.6" r="2.2" fill="#eeeeea"/>
<path d="M57.6,421 C60,415 64,406 71,401 C77,397 83,393 86,387 C89,381 94,377 100,374.5 C106,371.5 111,370 116,369.7 C121,369 126,367 131,368.5 L133.7,370.4 C132,373 129,374.5 124,376 C121,378 119.5,380 118.5,383" fill="none" stroke="#d65a50" stroke-width="3" stroke-linecap="round" stroke-linejoin="round"/>
<path d="M119,355.1 C120.5,360 123,364 128,366 L133.7,370.4" fill="none" stroke="#d65a50" stroke-width="3" stroke-linecap="round" stroke-linejoin="round"/>
<path d="M102,552.2 C106,548 110,544 113,539 C116,534 118,530 122,527 C127,523.5 131,521 137,518 C142,515.5 146,514 150,511.5 C155,509 159,506 163,503 C167,500 172,498.5 178,497.5 L183.7,497.1" fill="none" stroke="#d65a50" stroke-width="3" stroke-linecap="round" stroke-linejoin="round"/>
<path d="M174.2,492.7 C178,493.5 181,495 183.7,497.1 C181.5,499.5 179,501.5 177.4,503.4" fill="none" stroke="#d65a50" stroke-width="3" stroke-linecap="round" stroke-linejoin="round"/>
<path d="M512.4,545.1 C509,541 506,539 503.8,537.3 C499,533 496,531 492.7,528.6 C488,525 484,522.5 480.1,520.7 C475,518 470,517.5 465.9,516 C461,514 458,512.5 454.9,511.3 C451,509.5 448,508 445.4,506.5 C441,503.5 438,501 434.4,499.4 C430,497.5 427,496 423.4,495.5 C419,494.5 416,494 413.1,493.9" fill="none" stroke="#d65a50" stroke-width="3" stroke-linecap="round" stroke-linejoin="round"/>
<path d="M417.1,486.8 L401.3,490.8 L414.7,499.4" fill="none" stroke="#d65a50" stroke-width="3" stroke-linecap="round" stroke-linejoin="round"/>
<g fill="none" stroke="#c8404a" stroke-width="1.3" stroke-linecap="round"><ellipse cx="617" cy="318.5" rx="3" ry="3.8"/><line x1="622.5" y1="318.3" x2="628" y2="317.8"/><line x1="630.5" y1="322" x2="633.5" y2="313.5"/><ellipse cx="638.5" cy="318.7" rx="3.2" ry="3.4"/><polyline points="643,313.5 647,322.5 653.5,311"/></g>
<g fill="none" stroke="#242424" stroke-width="1.25" stroke-linecap="square"><path d="M460.8,607.8 H464.5 M462.7,605 V613 L461.8,612.4 M460.8,611.5 L464.5,609.6"/><path d="M467.6,604.9 V606 M465.2,607 H470.8 M466.4,607.6 L466.9,609 M469.4,607.6 L469,609 M465,609.6 H471"/><path d="M464.6,611.4 H471 M467.4,609.8 L465.6,613.4 M469.3,611.4 Q468.8,613 465.6,613.6 M466.5,612 L470.5,613.6"/><path d="M472.6,605.3 L473.4,606.3 M472,608 H473.6 V612 M472,613.4 Q476,612.6 481.8,613.6"/><path d="M480,605.2 L475.8,606.4 V611.4 L475,612.2 M475.8,608.6 H481.4 M478.6,608.6 V612.2"/><path d="M483.6,605.6 H492.6 M483,609.2 H493.2 M486.4,605.6 V610 Q486,612.4 484.2,613.6 M490.2,605.6 V613.6"/><path d="M496,604.6 L497,606 M501.6,604.6 L500.6,606 M495,607.2 H502.8 M494,609.6 H504 M499,607 V609.6 Q498,612.4 494.4,613.6 M499.3,610.3 Q501,612.6 504,613.6"/></g>
<text x="654.4" y="326.5" font-size="9.5" font-weight="normal" fill="#3a3a3a" text-anchor="start" font-family='"Liberation Mono", monospace' stroke="#3a3a3a" stroke-width="0.35" textLength="42" lengthAdjust="spacingAndGlyphs">Inverters</text>
<text x="739.8" y="202.5" font-size="9.5" font-weight="normal" fill="#3a3a3a" text-anchor="start" font-family='"Liberation Mono", monospace' stroke="#3a3a3a" stroke-width="0.35" textLength="33" lengthAdjust="spacingAndGlyphs">Spindle</text>
<text x="637.8" y="400" font-size="9.5" font-weight="normal" fill="#3a3a3a" text-anchor="start" font-family='"Liberation Mono", monospace' stroke="#3a3a3a" stroke-width="0.35" textLength="83.6" lengthAdjust="spacingAndGlyphs">Solid State Relays</text>
<text x="656.2" y="509.7" font-size="9.5" font-weight="normal" fill="#3a3a3a" text-anchor="start" font-family='"Liberation Mono", monospace' stroke="#3a3a3a" stroke-width="0.35" textLength="55.8" lengthAdjust="spacingAndGlyphs">Cooling pump</text>
<text x="31" y="437.5" font-size="9.5" font-weight="normal" fill="#3a3a3a" text-anchor="start" font-family='"Liberation Mono", monospace' stroke="#3a3a3a" stroke-width="0.35" textLength="36.7" lengthAdjust="spacingAndGlyphs">Computer</text>
<text x="560" y="614" font-size="9.5" font-weight="normal" fill="#3a3a3a" text-anchor="start" font-family='"Liberation Mono", monospace' stroke="#3a3a3a" stroke-width="0.35" textLength="57" lengthAdjust="spacingAndGlyphs">Limit switch</text>
<text x="246.5" y="195" font-size="12" font-weight="normal" fill="#444" text-anchor="start" font-family='"Liberation Serif", serif' textLength="12" lengthAdjust="spacingAndGlyphs">5V</text>
<text x="135.7" y="238.3" font-size="12" font-weight="normal" fill="#4a4a4a" text-anchor="start" font-family='"Liberation Serif", serif' textLength="19.6" lengthAdjust="spacingAndGlyphs">GND</text>
<text x="96.9" y="238.3" font-size="12" font-weight="normal" fill="#4a4a4a" text-anchor="start" font-family='"Liberation Serif", serif' textLength="12" lengthAdjust="spacingAndGlyphs">+V</text>
<text x="18.2" y="233.3" font-size="9.5" font-weight="normal" fill="#444" text-anchor="start" font-family='"Liberation Serif", serif' textLength="22.7" lengthAdjust="spacingAndGlyphs">Power</text>
<text x="78" y="333" font-size="12" font-weight="normal" fill="#444" text-anchor="start" font-family='"Liberation Serif", serif' textLength="35" lengthAdjust="spacingAndGlyphs">13-24V</text>
</svg>
</body></html>
